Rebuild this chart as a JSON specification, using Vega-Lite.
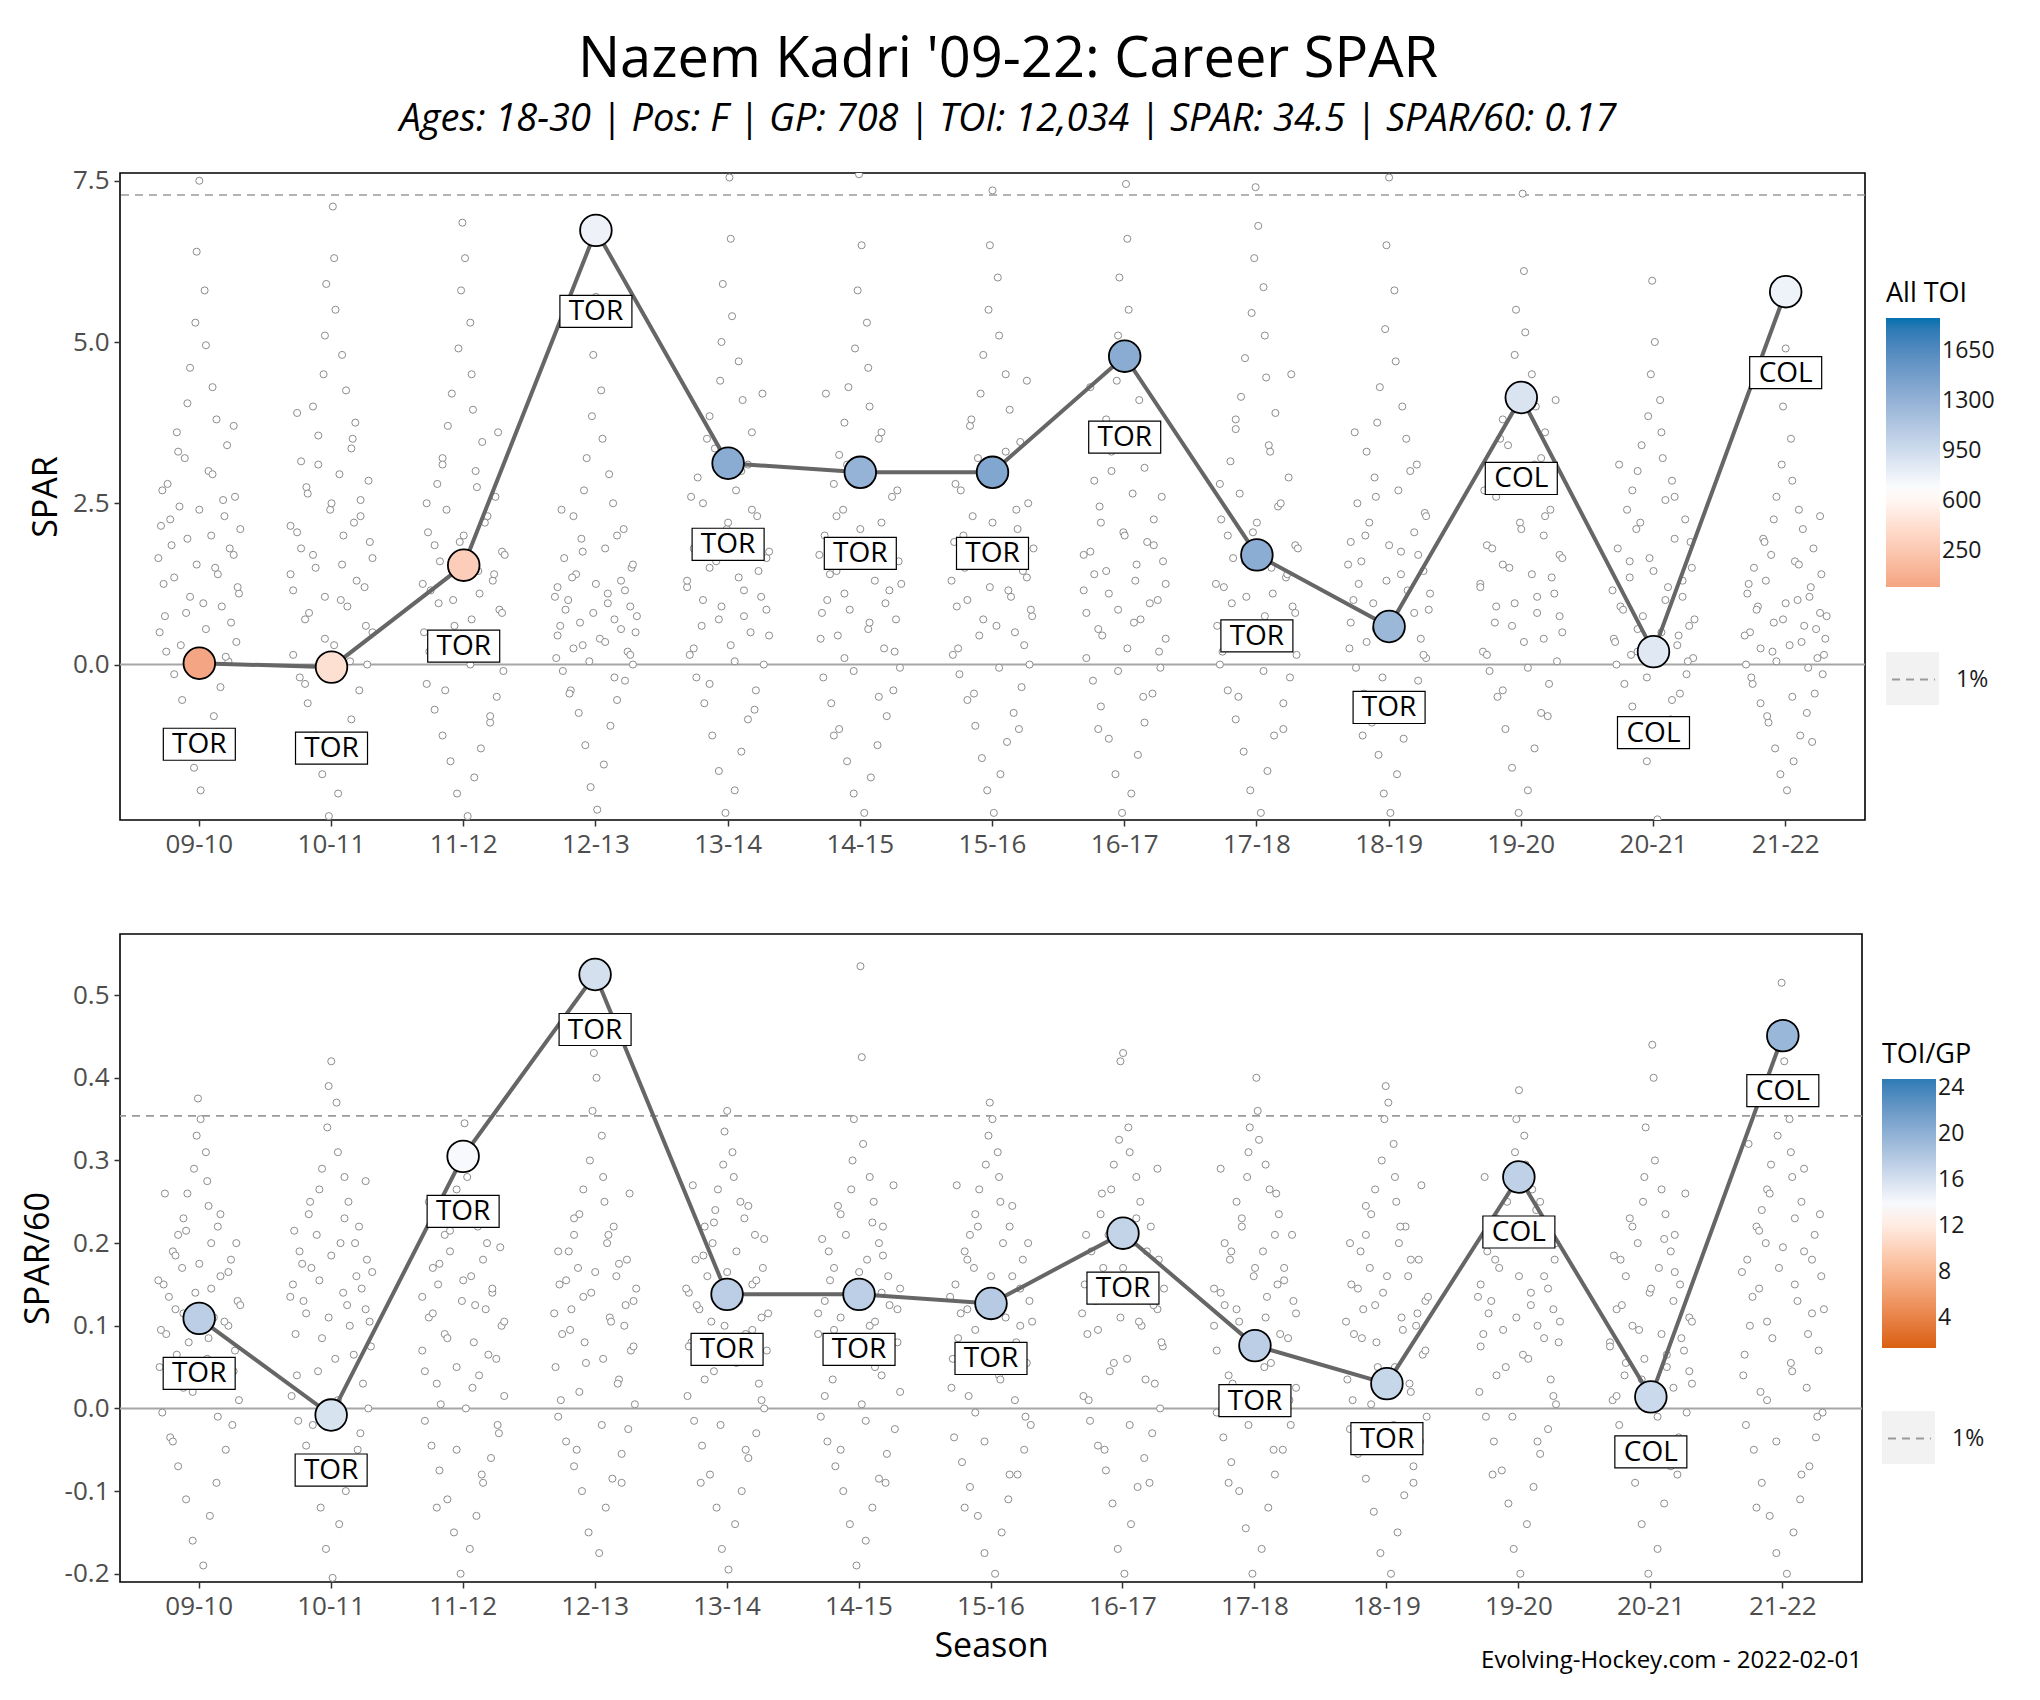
{
  "$schema": "https://vega.github.io/schema/vega-lite/v6.json",
  "background": "white",
  "padding": {"left": 20, "right": 10, "top": 31, "bottom": 8},
  "title": {
    "text": "Nazem Kadri '09-22: Career SPAR",
    "subtitle": "Ages: 18-30 | Pos: F | GP: 708 | TOI: 12,034 | SPAR: 34.5 | SPAR/60: 0.17",
    "font": "Open Sans",
    "subtitleFont": "Open Sans",
    "fontSize": 56,
    "fontWeight": "normal",
    "color": "black",
    "subtitleFontSize": 38,
    "subtitleFontStyle": "italic",
    "subtitleColor": "black",
    "subtitlePadding": 12,
    "anchor": "middle",
    "offset": 27
  },
  "config": {
    "font": "Open Sans",
    "locale": {"number": {"decimal": ".", "thousands": ",", "grouping": [3], "currency": ["$", ""], "minus": "-"}},
    "view": {"stroke": "black", "strokeWidth": 1.6},
    "axis": {
      "labelFont": "Open Sans", "labelFontSize": 26, "labelColor": "#4d4d4d",
      "titleFont": "Open Sans", "titleFontSize": 34, "titleFontWeight": "normal", "titleColor": "black",
      "tickColor": "#333333", "tickSize": 6, "tickWidth": 1.5, "domain": false, "grid": false, "labelPadding": 5
    },
    "axisX": {"labelAngle": 0, "titlePadding": 10},
    "axisY": {"titlePadding": 9},
    "legend": {
      "titleFont": "Open Sans", "titleFontSize": 27, "titleFontWeight": "normal", "titleColor": "black",
      "labelFont": "Open Sans", "labelFontSize": 23, "labelColor": "#1a1a1a",
      "gradientLength": 269, "gradientThickness": 54, "gradientStrokeWidth": 0, "labelOffset": 15, "titlePadding": 10
    }
  },
  "datasets": {
    "career": [
      {"season": "09-10", "team": "TOR", "spar": 0.02, "spar60": 0.109, "toi": 11, "toigp": 17.5},
      {"season": "10-11", "team": "TOR", "spar": -0.04, "spar60": -0.008, "toi": 440, "toigp": 15.8},
      {"season": "11-12", "team": "TOR", "spar": 1.54, "spar60": 0.305, "toi": 300, "toigp": 14},
      {"season": "12-13", "team": "TOR", "spar": 6.73, "spar60": 0.525, "toi": 770, "toigp": 16},
      {"season": "13-14", "team": "TOR", "spar": 3.12, "spar60": 0.138, "toi": 1357, "toigp": 17.5},
      {"season": "14-15", "team": "TOR", "spar": 2.98, "spar60": 0.138, "toi": 1295, "toigp": 17.4},
      {"season": "15-16", "team": "TOR", "spar": 2.98, "spar60": 0.127, "toi": 1408, "toigp": 17.8},
      {"season": "16-17", "team": "TOR", "spar": 4.78, "spar60": 0.212, "toi": 1353, "toigp": 17},
      {"season": "17-18", "team": "TOR", "spar": 1.70, "spar60": 0.076, "toi": 1342, "toigp": 17.5},
      {"season": "18-19", "team": "TOR", "spar": 0.59, "spar60": 0.030, "toi": 1250, "toigp": 16.8},
      {"season": "19-20", "team": "COL", "spar": 4.14, "spar60": 0.280, "toi": 887, "toigp": 17.3},
      {"season": "20-21", "team": "COL", "spar": 0.20, "spar60": 0.014, "toi": 857, "toigp": 16.6},
      {"season": "21-22", "team": "COL", "spar": 5.78, "spar60": 0.451, "toi": 769, "toigp": 19.5}
    ],
    "spar": [
      {"s":"09-10","v":-1.95,"o":0.01},{"s":"09-10","v":-1.6,"o":-0.04},{"s":"09-10","v":-1.3,"o":0.06},{"s":"09-10","v":-1.05,"o":-0.08},{"s":"09-10","v":-0.8,"o":0.11},{"s":"09-10","v":-0.55,"o":-0.13},{"s":"09-10","v":-0.35,"o":0.16},{"s":"09-10","v":-0.15,"o":-0.19},{"s":"09-10","v":0.05,"o":0.22},{"s":"09-10","v":0.2,"o":-0.25},
      {"s":"09-10","v":0.35,"o":0.28},{"s":"09-10","v":0.5,"o":-0.3},{"s":"09-10","v":0.65,"o":0.24},{"s":"09-10","v":0.8,"o":-0.1},{"s":"09-10","v":0.95,"o":0.03},{"s":"09-10","v":1.1,"o":0.3},{"s":"09-10","v":1.25,"o":-0.27},{"s":"09-10","v":1.4,"o":0.14},{"s":"09-10","v":1.55,"o":-0.02},{"s":"09-10","v":1.7,"o":0.26},
      {"s":"09-10","v":1.85,"o":-0.21},{"s":"09-10","v":2.0,"o":0.09},{"s":"09-10","v":2.15,"o":-0.29},{"s":"09-10","v":2.3,"o":0.19},{"s":"09-10","v":2.45,"o":-0.15},{"s":"09-10","v":2.6,"o":0.27},{"s":"09-10","v":2.8,"o":-0.24},{"s":"09-10","v":3.0,"o":0.07},{"s":"09-10","v":3.2,"o":-0.11},{"s":"09-10","v":3.4,"o":0.21},
      {"s":"09-10","v":3.6,"o":-0.17},{"s":"09-10","v":3.8,"o":0.13},{"s":"09-10","v":4.05,"o":-0.09},{"s":"09-10","v":4.3,"o":0.1},{"s":"09-10","v":4.6,"o":-0.07},{"s":"09-10","v":4.95,"o":0.05},{"s":"09-10","v":5.3,"o":-0.03},{"s":"09-10","v":5.8,"o":0.04},{"s":"09-10","v":6.4,"o":-0.02},{"s":"09-10","v":7.5,"o":0.0},
      {"s":"09-10","v":0.12,"o":0.2},{"s":"09-10","v":0.3,"o":-0.14},{"s":"09-10","v":0.55,"o":0.05},{"s":"09-10","v":0.75,"o":-0.26},{"s":"09-10","v":0.9,"o":0.17},{"s":"09-10","v":1.05,"o":-0.07},{"s":"09-10","v":1.2,"o":0.29},{"s":"09-10","v":1.35,"o":-0.19},{"s":"09-10","v":1.5,"o":0.12},{"s":"09-10","v":1.65,"o":-0.31},
      {"s":"09-10","v":1.8,"o":0.23},{"s":"09-10","v":1.95,"o":-0.09},{"s":"09-10","v":2.1,"o":0.31},{"s":"09-10","v":2.25,"o":-0.22},{"s":"09-10","v":2.4,"o":0.0},{"s":"09-10","v":2.55,"o":0.18},{"s":"09-10","v":2.7,"o":-0.28},{"s":"09-10","v":2.95,"o":0.1},{"s":"09-10","v":3.3,"o":-0.16},{"s":"09-10","v":3.7,"o":0.26},

      {"s":"10-11","v":-2.35,"o":-0.02},{"s":"10-11","v":-2.0,"o":0.05},{"s":"10-11","v":-1.7,"o":-0.07},{"s":"10-11","v":-1.4,"o":0.1},{"s":"10-11","v":-1.1,"o":-0.12},{"s":"10-11","v":-0.85,"o":0.15},{"s":"10-11","v":-0.6,"o":-0.18},{"s":"10-11","v":-0.4,"o":0.21},{"s":"10-11","v":-0.2,"o":-0.24},{"s":"10-11","v":0.0,"o":0.27},
      {"s":"10-11","v":0.15,"o":-0.29},{"s":"10-11","v":0.3,"o":0.02},{"s":"10-11","v":0.5,"o":0.31},{"s":"10-11","v":0.7,"o":-0.2},{"s":"10-11","v":0.9,"o":0.12},{"s":"10-11","v":1.05,"o":-0.05},{"s":"10-11","v":1.2,"o":0.25},{"s":"10-11","v":1.4,"o":-0.31},{"s":"10-11","v":1.55,"o":0.08},{"s":"10-11","v":1.7,"o":-0.14},
      {"s":"10-11","v":1.9,"o":0.29},{"s":"10-11","v":2.05,"o":-0.26},{"s":"10-11","v":2.2,"o":0.17},{"s":"10-11","v":2.4,"o":-0.01},{"s":"10-11","v":2.55,"o":0.22},{"s":"10-11","v":2.75,"o":-0.19},{"s":"10-11","v":2.95,"o":0.06},{"s":"10-11","v":3.15,"o":-0.23},{"s":"10-11","v":3.35,"o":0.15},{"s":"10-11","v":3.55,"o":-0.1},
      {"s":"10-11","v":3.75,"o":0.18},{"s":"10-11","v":4.0,"o":-0.14},{"s":"10-11","v":4.25,"o":0.11},{"s":"10-11","v":4.5,"o":-0.06},{"s":"10-11","v":4.8,"o":0.08},{"s":"10-11","v":5.1,"o":-0.05},{"s":"10-11","v":5.5,"o":0.03},{"s":"10-11","v":5.9,"o":-0.04},{"s":"10-11","v":6.3,"o":0.02},{"s":"10-11","v":7.1,"o":0.01},
      {"s":"10-11","v":-0.3,"o":-0.2},{"s":"10-11","v":0.05,"o":0.14},{"s":"10-11","v":0.4,"o":-0.05},{"s":"10-11","v":0.6,"o":0.26},{"s":"10-11","v":0.8,"o":-0.17},{"s":"10-11","v":1.0,"o":0.07},{"s":"10-11","v":1.15,"o":-0.29},{"s":"10-11","v":1.3,"o":0.19},{"s":"10-11","v":1.5,"o":-0.12},{"s":"10-11","v":1.65,"o":0.31},
      {"s":"10-11","v":1.8,"o":-0.23},{"s":"10-11","v":2.0,"o":0.09},{"s":"10-11","v":2.15,"o":-0.31},{"s":"10-11","v":2.3,"o":0.22},{"s":"10-11","v":2.5,"o":0.0},{"s":"10-11","v":2.65,"o":-0.18},{"s":"10-11","v":2.85,"o":0.28},{"s":"10-11","v":3.1,"o":-0.1},{"s":"10-11","v":3.5,"o":0.16},{"s":"10-11","v":3.9,"o":-0.26},

      {"s":"11-12","v":-2.35,"o":0.03},{"s":"11-12","v":-2.0,"o":-0.05},{"s":"11-12","v":-1.75,"o":0.08},{"s":"11-12","v":-1.5,"o":-0.1},{"s":"11-12","v":-1.3,"o":0.13},{"s":"11-12","v":-1.1,"o":-0.16},{"s":"11-12","v":-0.9,"o":0.2},{"s":"11-12","v":-0.7,"o":-0.22},{"s":"11-12","v":-0.5,"o":0.25},{"s":"11-12","v":-0.3,"o":-0.28},
      {"s":"11-12","v":-0.1,"o":0.3},{"s":"11-12","v":0.1,"o":-0.12},{"s":"11-12","v":0.3,"o":0.18},{"s":"11-12","v":0.5,"o":-0.3},{"s":"11-12","v":0.7,"o":0.06},{"s":"11-12","v":0.85,"o":0.27},{"s":"11-12","v":1.0,"o":-0.08},{"s":"11-12","v":1.15,"o":-0.25},{"s":"11-12","v":1.3,"o":0.22},{"s":"11-12","v":1.45,"o":0.11},
      {"s":"11-12","v":1.6,"o":-0.18},{"s":"11-12","v":1.75,"o":0.29},{"s":"11-12","v":1.9,"o":-0.03},{"s":"11-12","v":2.05,"o":-0.27},{"s":"11-12","v":2.2,"o":0.16},{"s":"11-12","v":2.4,"o":-0.13},{"s":"11-12","v":2.6,"o":0.24},{"s":"11-12","v":2.8,"o":-0.2},{"s":"11-12","v":3.0,"o":0.09},{"s":"11-12","v":3.2,"o":-0.16},
      {"s":"11-12","v":3.45,"o":0.14},{"s":"11-12","v":3.7,"o":-0.12},{"s":"11-12","v":3.95,"o":0.07},{"s":"11-12","v":4.2,"o":-0.09},{"s":"11-12","v":4.5,"o":0.06},{"s":"11-12","v":4.9,"o":-0.04},{"s":"11-12","v":5.3,"o":0.05},{"s":"11-12","v":5.8,"o":-0.02},{"s":"11-12","v":6.3,"o":0.01},{"s":"11-12","v":6.85,"o":-0.01},
      {"s":"11-12","v":-0.8,"o":0.2},{"s":"11-12","v":-0.4,"o":-0.14},{"s":"11-12","v":0.0,"o":0.05},{"s":"11-12","v":0.2,"o":-0.26},{"s":"11-12","v":0.4,"o":0.17},{"s":"11-12","v":0.6,"o":-0.07},{"s":"11-12","v":0.8,"o":0.29},{"s":"11-12","v":0.95,"o":-0.19},{"s":"11-12","v":1.1,"o":0.12},{"s":"11-12","v":1.25,"o":-0.31},
      {"s":"11-12","v":1.4,"o":0.23},{"s":"11-12","v":1.55,"o":-0.09},{"s":"11-12","v":1.7,"o":0.31},{"s":"11-12","v":1.85,"o":-0.22},{"s":"11-12","v":2.0,"o":0.0},{"s":"11-12","v":2.3,"o":0.18},{"s":"11-12","v":2.5,"o":-0.28},{"s":"11-12","v":2.75,"o":0.1},{"s":"11-12","v":3.1,"o":-0.16},{"s":"11-12","v":3.6,"o":0.26},

      {"s":"12-13","v":-2.25,"o":0.01},{"s":"12-13","v":-1.9,"o":-0.04},{"s":"12-13","v":-1.55,"o":0.06},{"s":"12-13","v":-1.25,"o":-0.08},{"s":"12-13","v":-0.95,"o":0.11},{"s":"12-13","v":-0.75,"o":-0.13},{"s":"12-13","v":-0.55,"o":0.16},{"s":"12-13","v":-0.4,"o":-0.19},{"s":"12-13","v":-0.25,"o":0.22},{"s":"12-13","v":-0.1,"o":-0.25},
      {"s":"12-13","v":0.0,"o":0.28},{"s":"12-13","v":0.1,"o":-0.3},{"s":"12-13","v":0.2,"o":0.24},{"s":"12-13","v":0.3,"o":-0.1},{"s":"12-13","v":0.4,"o":0.03},{"s":"12-13","v":0.5,"o":0.3},{"s":"12-13","v":0.6,"o":-0.27},{"s":"12-13","v":0.7,"o":0.14},{"s":"12-13","v":0.8,"o":-0.02},{"s":"12-13","v":0.9,"o":0.26},
      {"s":"12-13","v":1.0,"o":-0.21},{"s":"12-13","v":1.1,"o":0.09},{"s":"12-13","v":1.2,"o":-0.29},{"s":"12-13","v":1.3,"o":0.19},{"s":"12-13","v":1.4,"o":-0.15},{"s":"12-13","v":1.5,"o":0.27},{"s":"12-13","v":1.65,"o":-0.24},{"s":"12-13","v":1.8,"o":0.07},{"s":"12-13","v":1.95,"o":-0.11},{"s":"12-13","v":2.1,"o":0.21},
      {"s":"12-13","v":2.3,"o":-0.17},{"s":"12-13","v":2.5,"o":0.13},{"s":"12-13","v":2.7,"o":-0.09},{"s":"12-13","v":2.95,"o":0.1},{"s":"12-13","v":3.2,"o":-0.07},{"s":"12-13","v":3.5,"o":0.05},{"s":"12-13","v":3.85,"o":-0.03},{"s":"12-13","v":4.25,"o":0.04},{"s":"12-13","v":4.8,"o":-0.02},{"s":"12-13","v":5.7,"o":0.0},
      {"s":"12-13","v":-0.45,"o":-0.2},{"s":"12-13","v":-0.2,"o":0.14},{"s":"12-13","v":0.05,"o":-0.05},{"s":"12-13","v":0.15,"o":0.26},{"s":"12-13","v":0.25,"o":-0.17},{"s":"12-13","v":0.35,"o":0.07},{"s":"12-13","v":0.45,"o":-0.29},{"s":"12-13","v":0.55,"o":0.19},{"s":"12-13","v":0.65,"o":-0.12},{"s":"12-13","v":0.75,"o":0.31},
      {"s":"12-13","v":0.85,"o":-0.23},{"s":"12-13","v":0.95,"o":0.09},{"s":"12-13","v":1.05,"o":-0.31},{"s":"12-13","v":1.15,"o":0.22},{"s":"12-13","v":1.25,"o":0.0},{"s":"12-13","v":1.35,"o":-0.18},{"s":"12-13","v":1.55,"o":0.28},{"s":"12-13","v":1.75,"o":-0.1},{"s":"12-13","v":2.0,"o":0.16},{"s":"12-13","v":2.4,"o":-0.26},

      {"s":"13-14","v":-2.3,"o":-0.02},{"s":"13-14","v":-1.95,"o":0.05},{"s":"13-14","v":-1.65,"o":-0.07},{"s":"13-14","v":-1.35,"o":0.1},{"s":"13-14","v":-1.1,"o":-0.12},{"s":"13-14","v":-0.85,"o":0.15},{"s":"13-14","v":-0.6,"o":-0.18},{"s":"13-14","v":-0.4,"o":0.21},{"s":"13-14","v":-0.2,"o":-0.24},{"s":"13-14","v":0.0,"o":0.27},
      {"s":"13-14","v":0.15,"o":-0.29},{"s":"13-14","v":0.3,"o":0.02},{"s":"13-14","v":0.45,"o":0.31},{"s":"13-14","v":0.6,"o":-0.2},{"s":"13-14","v":0.75,"o":0.12},{"s":"13-14","v":0.9,"o":-0.05},{"s":"13-14","v":1.05,"o":0.25},{"s":"13-14","v":1.2,"o":-0.31},{"s":"13-14","v":1.35,"o":0.08},{"s":"13-14","v":1.5,"o":-0.14},
      {"s":"13-14","v":1.65,"o":0.29},{"s":"13-14","v":1.8,"o":-0.26},{"s":"13-14","v":1.95,"o":0.17},{"s":"13-14","v":2.1,"o":-0.01},{"s":"13-14","v":2.3,"o":0.22},{"s":"13-14","v":2.5,"o":-0.19},{"s":"13-14","v":2.7,"o":0.06},{"s":"13-14","v":2.9,"o":-0.23},{"s":"13-14","v":3.1,"o":0.15},{"s":"13-14","v":3.35,"o":-0.1},
      {"s":"13-14","v":3.6,"o":0.18},{"s":"13-14","v":3.85,"o":-0.14},{"s":"13-14","v":4.1,"o":0.11},{"s":"13-14","v":4.4,"o":-0.06},{"s":"13-14","v":4.7,"o":0.08},{"s":"13-14","v":5.0,"o":-0.05},{"s":"13-14","v":5.4,"o":0.03},{"s":"13-14","v":5.9,"o":-0.04},{"s":"13-14","v":6.6,"o":0.02},{"s":"13-14","v":7.55,"o":0.01},
      {"s":"13-14","v":-0.7,"o":0.2},{"s":"13-14","v":-0.3,"o":-0.14},{"s":"13-14","v":0.05,"o":0.05},{"s":"13-14","v":0.25,"o":-0.26},{"s":"13-14","v":0.5,"o":0.17},{"s":"13-14","v":0.7,"o":-0.07},{"s":"13-14","v":0.85,"o":0.29},{"s":"13-14","v":1.0,"o":-0.19},{"s":"13-14","v":1.15,"o":0.12},{"s":"13-14","v":1.3,"o":-0.31},
      {"s":"13-14","v":1.45,"o":0.23},{"s":"13-14","v":1.6,"o":-0.09},{"s":"13-14","v":1.75,"o":0.31},{"s":"13-14","v":1.9,"o":-0.22},{"s":"13-14","v":2.2,"o":0.0},{"s":"13-14","v":2.4,"o":0.18},{"s":"13-14","v":2.6,"o":-0.28},{"s":"13-14","v":3.0,"o":0.1},{"s":"13-14","v":3.5,"o":-0.16},{"s":"13-14","v":4.2,"o":0.26},

      {"s":"14-15","v":-2.3,"o":0.03},{"s":"14-15","v":-2.0,"o":-0.05},{"s":"14-15","v":-1.75,"o":0.08},{"s":"14-15","v":-1.5,"o":-0.1},{"s":"14-15","v":-1.25,"o":0.13},{"s":"14-15","v":-1.0,"o":-0.16},{"s":"14-15","v":-0.8,"o":0.2},{"s":"14-15","v":-0.6,"o":-0.22},{"s":"14-15","v":-0.4,"o":0.25},{"s":"14-15","v":-0.2,"o":-0.28},
      {"s":"14-15","v":-0.05,"o":0.3},{"s":"14-15","v":0.1,"o":-0.12},{"s":"14-15","v":0.25,"o":0.18},{"s":"14-15","v":0.4,"o":-0.3},{"s":"14-15","v":0.55,"o":0.06},{"s":"14-15","v":0.7,"o":0.27},{"s":"14-15","v":0.85,"o":-0.08},{"s":"14-15","v":1.0,"o":-0.25},{"s":"14-15","v":1.15,"o":0.22},{"s":"14-15","v":1.3,"o":0.11},
      {"s":"14-15","v":1.45,"o":-0.18},{"s":"14-15","v":1.6,"o":0.29},{"s":"14-15","v":1.8,"o":-0.03},{"s":"14-15","v":2.0,"o":-0.27},{"s":"14-15","v":2.2,"o":0.16},{"s":"14-15","v":2.4,"o":-0.13},{"s":"14-15","v":2.6,"o":0.24},{"s":"14-15","v":2.8,"o":-0.2},{"s":"14-15","v":3.0,"o":0.09},{"s":"14-15","v":3.25,"o":-0.16},
      {"s":"14-15","v":3.5,"o":0.14},{"s":"14-15","v":3.75,"o":-0.12},{"s":"14-15","v":4.0,"o":0.07},{"s":"14-15","v":4.3,"o":-0.09},{"s":"14-15","v":4.6,"o":0.06},{"s":"14-15","v":4.9,"o":-0.04},{"s":"14-15","v":5.3,"o":0.05},{"s":"14-15","v":5.8,"o":-0.02},{"s":"14-15","v":6.5,"o":0.01},{"s":"14-15","v":7.6,"o":-0.01},
      {"s":"14-15","v":-1.1,"o":-0.2},{"s":"14-15","v":-0.5,"o":0.14},{"s":"14-15","v":-0.1,"o":-0.05},{"s":"14-15","v":0.2,"o":0.26},{"s":"14-15","v":0.45,"o":-0.17},{"s":"14-15","v":0.65,"o":0.07},{"s":"14-15","v":0.8,"o":-0.29},{"s":"14-15","v":0.95,"o":0.19},{"s":"14-15","v":1.1,"o":-0.12},{"s":"14-15","v":1.25,"o":0.31},
      {"s":"14-15","v":1.4,"o":-0.23},{"s":"14-15","v":1.55,"o":0.09},{"s":"14-15","v":1.7,"o":-0.31},{"s":"14-15","v":1.9,"o":0.22},{"s":"14-15","v":2.1,"o":0.0},{"s":"14-15","v":2.3,"o":-0.18},{"s":"14-15","v":2.7,"o":0.28},{"s":"14-15","v":3.1,"o":-0.1},{"s":"14-15","v":3.6,"o":0.16},{"s":"14-15","v":4.2,"o":-0.26},

      {"s":"15-16","v":-2.3,"o":0.01},{"s":"15-16","v":-1.95,"o":-0.04},{"s":"15-16","v":-1.7,"o":0.06},{"s":"15-16","v":-1.45,"o":-0.08},{"s":"15-16","v":-1.2,"o":0.11},{"s":"15-16","v":-0.95,"o":-0.13},{"s":"15-16","v":-0.75,"o":0.16},{"s":"15-16","v":-0.55,"o":-0.19},{"s":"15-16","v":-0.35,"o":0.22},{"s":"15-16","v":-0.15,"o":-0.25},
      {"s":"15-16","v":0.0,"o":0.28},{"s":"15-16","v":0.15,"o":-0.3},{"s":"15-16","v":0.3,"o":0.24},{"s":"15-16","v":0.45,"o":-0.1},{"s":"15-16","v":0.6,"o":0.03},{"s":"15-16","v":0.75,"o":0.3},{"s":"15-16","v":0.9,"o":-0.27},{"s":"15-16","v":1.05,"o":0.14},{"s":"15-16","v":1.2,"o":-0.02},{"s":"15-16","v":1.35,"o":0.26},
      {"s":"15-16","v":1.5,"o":-0.21},{"s":"15-16","v":1.7,"o":0.09},{"s":"15-16","v":1.9,"o":-0.29},{"s":"15-16","v":2.1,"o":0.19},{"s":"15-16","v":2.3,"o":-0.15},{"s":"15-16","v":2.5,"o":0.27},{"s":"15-16","v":2.7,"o":-0.24},{"s":"15-16","v":2.95,"o":0.07},{"s":"15-16","v":3.2,"o":-0.11},{"s":"15-16","v":3.45,"o":0.21},
      {"s":"15-16","v":3.7,"o":-0.17},{"s":"15-16","v":3.95,"o":0.13},{"s":"15-16","v":4.2,"o":-0.09},{"s":"15-16","v":4.5,"o":0.1},{"s":"15-16","v":4.8,"o":-0.07},{"s":"15-16","v":5.1,"o":0.05},{"s":"15-16","v":5.5,"o":-0.03},{"s":"15-16","v":6.0,"o":0.04},{"s":"15-16","v":6.5,"o":-0.02},{"s":"15-16","v":7.35,"o":0.0},
      {"s":"15-16","v":-1.0,"o":0.2},{"s":"15-16","v":-0.45,"o":-0.14},{"s":"15-16","v":-0.05,"o":0.05},{"s":"15-16","v":0.25,"o":-0.26},{"s":"15-16","v":0.5,"o":0.17},{"s":"15-16","v":0.7,"o":-0.07},{"s":"15-16","v":0.85,"o":0.29},{"s":"15-16","v":1.0,"o":-0.19},{"s":"15-16","v":1.15,"o":0.12},{"s":"15-16","v":1.3,"o":-0.31},
      {"s":"15-16","v":1.45,"o":0.23},{"s":"15-16","v":1.6,"o":-0.09},{"s":"15-16","v":1.8,"o":0.31},{"s":"15-16","v":2.0,"o":-0.22},{"s":"15-16","v":2.2,"o":0.0},{"s":"15-16","v":2.4,"o":0.18},{"s":"15-16","v":2.8,"o":-0.28},{"s":"15-16","v":3.3,"o":0.1},{"s":"15-16","v":3.8,"o":-0.16},{"s":"15-16","v":4.4,"o":0.26},

      {"s":"16-17","v":-2.3,"o":-0.02},{"s":"16-17","v":-2.0,"o":0.05},{"s":"16-17","v":-1.7,"o":-0.07},{"s":"16-17","v":-1.4,"o":0.1},{"s":"16-17","v":-1.15,"o":-0.12},{"s":"16-17","v":-0.9,"o":0.15},{"s":"16-17","v":-0.65,"o":-0.18},{"s":"16-17","v":-0.45,"o":0.21},{"s":"16-17","v":-0.25,"o":-0.24},{"s":"16-17","v":-0.05,"o":0.27},
      {"s":"16-17","v":0.1,"o":-0.29},{"s":"16-17","v":0.25,"o":0.02},{"s":"16-17","v":0.4,"o":0.31},{"s":"16-17","v":0.55,"o":-0.2},{"s":"16-17","v":0.7,"o":0.12},{"s":"16-17","v":0.85,"o":-0.05},{"s":"16-17","v":1.0,"o":0.25},{"s":"16-17","v":1.15,"o":-0.31},{"s":"16-17","v":1.3,"o":0.08},{"s":"16-17","v":1.45,"o":-0.14},
      {"s":"16-17","v":1.6,"o":0.29},{"s":"16-17","v":1.75,"o":-0.26},{"s":"16-17","v":1.9,"o":0.17},{"s":"16-17","v":2.05,"o":-0.01},{"s":"16-17","v":2.25,"o":0.22},{"s":"16-17","v":2.45,"o":-0.19},{"s":"16-17","v":2.65,"o":0.06},{"s":"16-17","v":2.85,"o":-0.23},{"s":"16-17","v":3.05,"o":0.15},{"s":"16-17","v":3.3,"o":-0.1},
      {"s":"16-17","v":3.55,"o":0.18},{"s":"16-17","v":3.8,"o":-0.14},{"s":"16-17","v":4.1,"o":0.11},{"s":"16-17","v":4.4,"o":-0.06},{"s":"16-17","v":4.75,"o":0.08},{"s":"16-17","v":5.1,"o":-0.05},{"s":"16-17","v":5.5,"o":0.03},{"s":"16-17","v":6.0,"o":-0.04},{"s":"16-17","v":6.6,"o":0.02},{"s":"16-17","v":7.45,"o":0.01},
      {"s":"16-17","v":-1.0,"o":-0.2},{"s":"16-17","v":-0.5,"o":0.14},{"s":"16-17","v":-0.1,"o":-0.05},{"s":"16-17","v":0.2,"o":0.26},{"s":"16-17","v":0.45,"o":-0.17},{"s":"16-17","v":0.65,"o":0.07},{"s":"16-17","v":0.8,"o":-0.29},{"s":"16-17","v":0.95,"o":0.19},{"s":"16-17","v":1.1,"o":-0.12},{"s":"16-17","v":1.25,"o":0.31},
      {"s":"16-17","v":1.4,"o":-0.23},{"s":"16-17","v":1.55,"o":0.09},{"s":"16-17","v":1.7,"o":-0.31},{"s":"16-17","v":1.85,"o":0.22},{"s":"16-17","v":2.0,"o":0.0},{"s":"16-17","v":2.2,"o":-0.18},{"s":"16-17","v":2.6,"o":0.28},{"s":"16-17","v":3.0,"o":-0.1},{"s":"16-17","v":3.5,"o":0.16},{"s":"16-17","v":4.3,"o":-0.26},

      {"s":"17-18","v":-2.3,"o":0.03},{"s":"17-18","v":-1.95,"o":-0.05},{"s":"17-18","v":-1.65,"o":0.08},{"s":"17-18","v":-1.35,"o":-0.1},{"s":"17-18","v":-1.1,"o":0.13},{"s":"17-18","v":-0.85,"o":-0.16},{"s":"17-18","v":-0.6,"o":0.2},{"s":"17-18","v":-0.4,"o":-0.22},{"s":"17-18","v":-0.2,"o":0.25},{"s":"17-18","v":0.0,"o":-0.28},
      {"s":"17-18","v":0.15,"o":0.3},{"s":"17-18","v":0.3,"o":-0.12},{"s":"17-18","v":0.45,"o":0.18},{"s":"17-18","v":0.6,"o":-0.3},{"s":"17-18","v":0.75,"o":0.06},{"s":"17-18","v":0.9,"o":0.27},{"s":"17-18","v":1.05,"o":-0.08},{"s":"17-18","v":1.2,"o":-0.25},{"s":"17-18","v":1.35,"o":0.22},{"s":"17-18","v":1.5,"o":0.11},
      {"s":"17-18","v":1.65,"o":-0.18},{"s":"17-18","v":1.85,"o":0.29},{"s":"17-18","v":2.05,"o":-0.03},{"s":"17-18","v":2.25,"o":-0.27},{"s":"17-18","v":2.45,"o":0.16},{"s":"17-18","v":2.65,"o":-0.13},{"s":"17-18","v":2.9,"o":0.24},{"s":"17-18","v":3.15,"o":-0.2},{"s":"17-18","v":3.4,"o":0.09},{"s":"17-18","v":3.65,"o":-0.16},
      {"s":"17-18","v":3.9,"o":0.14},{"s":"17-18","v":4.15,"o":-0.12},{"s":"17-18","v":4.45,"o":0.07},{"s":"17-18","v":4.75,"o":-0.09},{"s":"17-18","v":5.1,"o":0.06},{"s":"17-18","v":5.45,"o":-0.04},{"s":"17-18","v":5.85,"o":0.05},{"s":"17-18","v":6.3,"o":-0.02},{"s":"17-18","v":6.8,"o":0.01},{"s":"17-18","v":7.4,"o":-0.01},
      {"s":"17-18","v":-1.0,"o":0.2},{"s":"17-18","v":-0.5,"o":-0.14},{"s":"17-18","v":-0.1,"o":0.05},{"s":"17-18","v":0.2,"o":-0.26},{"s":"17-18","v":0.4,"o":0.17},{"s":"17-18","v":0.6,"o":-0.07},{"s":"17-18","v":0.8,"o":0.29},{"s":"17-18","v":0.95,"o":-0.19},{"s":"17-18","v":1.1,"o":0.12},{"s":"17-18","v":1.25,"o":-0.31},
      {"s":"17-18","v":1.4,"o":0.23},{"s":"17-18","v":1.6,"o":-0.09},{"s":"17-18","v":1.8,"o":0.31},{"s":"17-18","v":2.0,"o":-0.22},{"s":"17-18","v":2.2,"o":0.0},{"s":"17-18","v":2.5,"o":0.18},{"s":"17-18","v":2.8,"o":-0.28},{"s":"17-18","v":3.3,"o":0.1},{"s":"17-18","v":3.8,"o":-0.16},{"s":"17-18","v":4.5,"o":0.26},

      {"s":"18-19","v":-2.3,"o":0.01},{"s":"18-19","v":-2.0,"o":-0.04},{"s":"18-19","v":-1.7,"o":0.06},{"s":"18-19","v":-1.4,"o":-0.08},{"s":"18-19","v":-1.15,"o":0.11},{"s":"18-19","v":-0.9,"o":-0.13},{"s":"18-19","v":-0.65,"o":0.16},{"s":"18-19","v":-0.45,"o":-0.19},{"s":"18-19","v":-0.25,"o":0.22},{"s":"18-19","v":-0.05,"o":-0.25},
      {"s":"18-19","v":0.1,"o":0.28},{"s":"18-19","v":0.25,"o":-0.3},{"s":"18-19","v":0.4,"o":0.24},{"s":"18-19","v":0.55,"o":-0.1},{"s":"18-19","v":0.7,"o":0.03},{"s":"18-19","v":0.85,"o":0.3},{"s":"18-19","v":1.0,"o":-0.27},{"s":"18-19","v":1.15,"o":0.14},{"s":"18-19","v":1.3,"o":-0.02},{"s":"18-19","v":1.45,"o":0.26},
      {"s":"18-19","v":1.6,"o":-0.21},{"s":"18-19","v":1.75,"o":0.09},{"s":"18-19","v":1.9,"o":-0.29},{"s":"18-19","v":2.05,"o":0.19},{"s":"18-19","v":2.2,"o":-0.15},{"s":"18-19","v":2.35,"o":0.27},{"s":"18-19","v":2.5,"o":-0.24},{"s":"18-19","v":2.7,"o":0.07},{"s":"18-19","v":2.9,"o":-0.11},{"s":"18-19","v":3.1,"o":0.21},
      {"s":"18-19","v":3.3,"o":-0.17},{"s":"18-19","v":3.5,"o":0.13},{"s":"18-19","v":3.75,"o":-0.09},{"s":"18-19","v":4.0,"o":0.1},{"s":"18-19","v":4.3,"o":-0.07},{"s":"18-19","v":4.7,"o":0.05},{"s":"18-19","v":5.2,"o":-0.03},{"s":"18-19","v":5.8,"o":0.04},{"s":"18-19","v":6.5,"o":-0.02},{"s":"18-19","v":7.55,"o":0.0},
      {"s":"18-19","v":-1.1,"o":-0.2},{"s":"18-19","v":-0.6,"o":0.14},{"s":"18-19","v":-0.2,"o":-0.05},{"s":"18-19","v":0.15,"o":0.26},{"s":"18-19","v":0.35,"o":-0.17},{"s":"18-19","v":0.5,"o":0.07},{"s":"18-19","v":0.65,"o":-0.29},{"s":"18-19","v":0.8,"o":0.19},{"s":"18-19","v":0.95,"o":-0.12},{"s":"18-19","v":1.1,"o":0.31},
      {"s":"18-19","v":1.25,"o":-0.23},{"s":"18-19","v":1.4,"o":0.09},{"s":"18-19","v":1.55,"o":-0.31},{"s":"18-19","v":1.7,"o":0.22},{"s":"18-19","v":1.85,"o":0.0},{"s":"18-19","v":2.0,"o":-0.18},{"s":"18-19","v":2.3,"o":0.28},{"s":"18-19","v":2.6,"o":-0.1},{"s":"18-19","v":3.0,"o":0.16},{"s":"18-19","v":3.6,"o":-0.26},

      {"s":"19-20","v":-2.3,"o":-0.02},{"s":"19-20","v":-1.95,"o":0.05},{"s":"19-20","v":-1.6,"o":-0.07},{"s":"19-20","v":-1.3,"o":0.1},{"s":"19-20","v":-1.0,"o":-0.12},{"s":"19-20","v":-0.75,"o":0.15},{"s":"19-20","v":-0.5,"o":-0.18},{"s":"19-20","v":-0.3,"o":0.21},{"s":"19-20","v":-0.1,"o":-0.24},{"s":"19-20","v":0.05,"o":0.27},
      {"s":"19-20","v":0.2,"o":-0.29},{"s":"19-20","v":0.35,"o":0.02},{"s":"19-20","v":0.5,"o":0.31},{"s":"19-20","v":0.65,"o":-0.2},{"s":"19-20","v":0.8,"o":0.12},{"s":"19-20","v":0.95,"o":-0.05},{"s":"19-20","v":1.1,"o":0.25},{"s":"19-20","v":1.25,"o":-0.31},{"s":"19-20","v":1.4,"o":0.08},{"s":"19-20","v":1.55,"o":-0.14},
      {"s":"19-20","v":1.7,"o":0.29},{"s":"19-20","v":1.85,"o":-0.26},{"s":"19-20","v":2.0,"o":0.17},{"s":"19-20","v":2.2,"o":-0.01},{"s":"19-20","v":2.4,"o":0.22},{"s":"19-20","v":2.6,"o":-0.19},{"s":"19-20","v":2.8,"o":0.06},{"s":"19-20","v":3.0,"o":-0.23},{"s":"19-20","v":3.2,"o":0.15},{"s":"19-20","v":3.4,"o":-0.1},
      {"s":"19-20","v":3.6,"o":0.18},{"s":"19-20","v":3.8,"o":-0.14},{"s":"19-20","v":4.0,"o":0.11},{"s":"19-20","v":4.25,"o":-0.06},{"s":"19-20","v":4.5,"o":0.08},{"s":"19-20","v":4.8,"o":-0.05},{"s":"19-20","v":5.15,"o":0.03},{"s":"19-20","v":5.5,"o":-0.04},{"s":"19-20","v":6.1,"o":0.02},{"s":"19-20","v":7.3,"o":0.01},
      {"s":"19-20","v":-0.8,"o":0.2},{"s":"19-20","v":-0.4,"o":-0.14},{"s":"19-20","v":-0.05,"o":0.05},{"s":"19-20","v":0.15,"o":-0.26},{"s":"19-20","v":0.4,"o":0.17},{"s":"19-20","v":0.6,"o":-0.07},{"s":"19-20","v":0.75,"o":0.29},{"s":"19-20","v":0.9,"o":-0.19},{"s":"19-20","v":1.05,"o":0.12},{"s":"19-20","v":1.2,"o":-0.31},
      {"s":"19-20","v":1.35,"o":0.23},{"s":"19-20","v":1.5,"o":-0.09},{"s":"19-20","v":1.65,"o":0.31},{"s":"19-20","v":1.8,"o":-0.22},{"s":"19-20","v":2.1,"o":0.0},{"s":"19-20","v":2.3,"o":0.18},{"s":"19-20","v":2.7,"o":-0.28},{"s":"19-20","v":3.1,"o":0.1},{"s":"19-20","v":3.5,"o":-0.16},{"s":"19-20","v":4.1,"o":0.26},

      {"s":"20-21","v":-2.4,"o":0.03},{"s":"20-21","v":-1.5,"o":-0.05},{"s":"20-21","v":-1.25,"o":0.08},{"s":"20-21","v":-1.05,"o":-0.1},{"s":"20-21","v":-0.85,"o":0.13},{"s":"20-21","v":-0.65,"o":-0.16},{"s":"20-21","v":-0.45,"o":0.2},{"s":"20-21","v":-0.3,"o":-0.22},{"s":"20-21","v":-0.15,"o":0.25},{"s":"20-21","v":0.0,"o":-0.28},
      {"s":"20-21","v":0.1,"o":0.3},{"s":"20-21","v":0.2,"o":-0.12},{"s":"20-21","v":0.3,"o":0.18},{"s":"20-21","v":0.4,"o":-0.3},{"s":"20-21","v":0.5,"o":0.06},{"s":"20-21","v":0.6,"o":0.27},{"s":"20-21","v":0.75,"o":-0.08},{"s":"20-21","v":0.9,"o":-0.25},{"s":"20-21","v":1.05,"o":0.22},{"s":"20-21","v":1.2,"o":0.11},
      {"s":"20-21","v":1.35,"o":-0.18},{"s":"20-21","v":1.5,"o":0.29},{"s":"20-21","v":1.65,"o":-0.03},{"s":"20-21","v":1.8,"o":-0.27},{"s":"20-21","v":1.95,"o":0.16},{"s":"20-21","v":2.1,"o":-0.13},{"s":"20-21","v":2.25,"o":0.24},{"s":"20-21","v":2.4,"o":-0.2},{"s":"20-21","v":2.55,"o":0.09},{"s":"20-21","v":2.7,"o":-0.16},
      {"s":"20-21","v":2.85,"o":0.14},{"s":"20-21","v":3.0,"o":-0.12},{"s":"20-21","v":3.2,"o":0.07},{"s":"20-21","v":3.4,"o":-0.09},{"s":"20-21","v":3.6,"o":0.06},{"s":"20-21","v":3.85,"o":-0.04},{"s":"20-21","v":4.1,"o":0.05},{"s":"20-21","v":4.5,"o":-0.02},{"s":"20-21","v":5.0,"o":0.01},{"s":"20-21","v":5.95,"o":-0.01},
      {"s":"20-21","v":-1.0,"o":-0.2},{"s":"20-21","v":-0.55,"o":0.14},{"s":"20-21","v":-0.2,"o":-0.05},{"s":"20-21","v":0.05,"o":0.26},{"s":"20-21","v":0.15,"o":-0.17},{"s":"20-21","v":0.25,"o":0.07},{"s":"20-21","v":0.35,"o":-0.29},{"s":"20-21","v":0.45,"o":0.19},{"s":"20-21","v":0.55,"o":-0.12},{"s":"20-21","v":0.7,"o":0.31},
      {"s":"20-21","v":0.85,"o":-0.23},{"s":"20-21","v":1.0,"o":0.09},{"s":"20-21","v":1.15,"o":-0.31},{"s":"20-21","v":1.3,"o":0.22},{"s":"20-21","v":1.45,"o":0.0},{"s":"20-21","v":1.6,"o":-0.18},{"s":"20-21","v":1.9,"o":0.28},{"s":"20-21","v":2.2,"o":-0.1},{"s":"20-21","v":2.6,"o":0.16},{"s":"20-21","v":3.1,"o":-0.26},

      {"s":"21-22","v":-1.95,"o":0.01},{"s":"21-22","v":-1.7,"o":-0.04},{"s":"21-22","v":-1.5,"o":0.06},{"s":"21-22","v":-1.3,"o":-0.08},{"s":"21-22","v":-1.1,"o":0.11},{"s":"21-22","v":-0.9,"o":-0.13},{"s":"21-22","v":-0.75,"o":0.16},{"s":"21-22","v":-0.6,"o":-0.19},{"s":"21-22","v":-0.45,"o":0.22},{"s":"21-22","v":-0.3,"o":-0.25},
      {"s":"21-22","v":-0.15,"o":0.28},{"s":"21-22","v":0.0,"o":-0.3},{"s":"21-22","v":0.1,"o":0.24},{"s":"21-22","v":0.2,"o":-0.1},{"s":"21-22","v":0.3,"o":0.03},{"s":"21-22","v":0.4,"o":0.3},{"s":"21-22","v":0.5,"o":-0.27},{"s":"21-22","v":0.6,"o":0.14},{"s":"21-22","v":0.7,"o":-0.02},{"s":"21-22","v":0.8,"o":0.26},
      {"s":"21-22","v":0.9,"o":-0.21},{"s":"21-22","v":1.0,"o":0.09},{"s":"21-22","v":1.1,"o":-0.29},{"s":"21-22","v":1.2,"o":0.19},{"s":"21-22","v":1.3,"o":-0.15},{"s":"21-22","v":1.4,"o":0.27},{"s":"21-22","v":1.5,"o":-0.24},{"s":"21-22","v":1.6,"o":0.07},{"s":"21-22","v":1.7,"o":-0.11},{"s":"21-22","v":1.8,"o":0.21},
      {"s":"21-22","v":1.95,"o":-0.17},{"s":"21-22","v":2.1,"o":0.13},{"s":"21-22","v":2.25,"o":-0.09},{"s":"21-22","v":2.4,"o":0.1},{"s":"21-22","v":2.6,"o":-0.07},{"s":"21-22","v":2.85,"o":0.05},{"s":"21-22","v":3.1,"o":-0.03},{"s":"21-22","v":3.5,"o":0.04},{"s":"21-22","v":4.0,"o":-0.02},{"s":"21-22","v":4.9,"o":0.0},
      {"s":"21-22","v":-1.2,"o":0.2},{"s":"21-22","v":-0.8,"o":-0.14},{"s":"21-22","v":-0.5,"o":0.05},{"s":"21-22","v":-0.2,"o":-0.26},{"s":"21-22","v":-0.05,"o":0.17},{"s":"21-22","v":0.05,"o":-0.07},{"s":"21-22","v":0.15,"o":0.29},{"s":"21-22","v":0.25,"o":-0.19},{"s":"21-22","v":0.35,"o":0.12},{"s":"21-22","v":0.45,"o":-0.31},
      {"s":"21-22","v":0.55,"o":0.23},{"s":"21-22","v":0.65,"o":-0.09},{"s":"21-22","v":0.75,"o":0.31},{"s":"21-22","v":0.85,"o":-0.22},{"s":"21-22","v":0.95,"o":0.0},{"s":"21-22","v":1.05,"o":0.18},{"s":"21-22","v":1.25,"o":-0.28},{"s":"21-22","v":1.55,"o":0.1},{"s":"21-22","v":1.9,"o":-0.16},{"s":"21-22","v":2.3,"o":0.26}
    ],
    "spar60": [
      {"s":"09-10","v":-0.19,"o":0.03},{"s":"09-10","v":-0.16,"o":-0.05},{"s":"09-10","v":-0.13,"o":0.08},{"s":"09-10","v":-0.11,"o":-0.1},{"s":"09-10","v":-0.09,"o":0.13},{"s":"09-10","v":-0.07,"o":-0.16},{"s":"09-10","v":-0.05,"o":0.2},{"s":"09-10","v":-0.035,"o":-0.22},{"s":"09-10","v":-0.02,"o":0.25},{"s":"09-10","v":-0.005,"o":-0.28},
      {"s":"09-10","v":0.01,"o":0.3},{"s":"09-10","v":0.025,"o":-0.12},{"s":"09-10","v":0.04,"o":0.18},{"s":"09-10","v":0.05,"o":-0.3},{"s":"09-10","v":0.06,"o":0.06},{"s":"09-10","v":0.07,"o":0.27},{"s":"09-10","v":0.08,"o":-0.08},{"s":"09-10","v":0.09,"o":-0.25},{"s":"09-10","v":0.1,"o":0.22},{"s":"09-10","v":0.11,"o":0.11},
      {"s":"09-10","v":0.12,"o":-0.18},{"s":"09-10","v":0.13,"o":0.29},{"s":"09-10","v":0.14,"o":-0.03},{"s":"09-10","v":0.15,"o":-0.27},{"s":"09-10","v":0.16,"o":0.16},{"s":"09-10","v":0.17,"o":-0.13},{"s":"09-10","v":0.18,"o":0.24},{"s":"09-10","v":0.19,"o":-0.2},{"s":"09-10","v":0.2,"o":0.09},{"s":"09-10","v":0.21,"o":-0.16},
      {"s":"09-10","v":0.22,"o":0.14},{"s":"09-10","v":0.23,"o":-0.12},{"s":"09-10","v":0.245,"o":0.07},{"s":"09-10","v":0.26,"o":-0.09},{"s":"09-10","v":0.275,"o":0.06},{"s":"09-10","v":0.29,"o":-0.04},{"s":"09-10","v":0.31,"o":0.05},{"s":"09-10","v":0.33,"o":-0.02},{"s":"09-10","v":0.35,"o":0.01},{"s":"09-10","v":0.375,"o":-0.01},
      {"s":"09-10","v":-0.04,"o":-0.2},{"s":"09-10","v":-0.01,"o":0.14},{"s":"09-10","v":0.02,"o":-0.05},{"s":"09-10","v":0.045,"o":0.26},{"s":"09-10","v":0.065,"o":-0.17},{"s":"09-10","v":0.085,"o":0.07},{"s":"09-10","v":0.095,"o":-0.29},{"s":"09-10","v":0.105,"o":0.19},{"s":"09-10","v":0.115,"o":-0.12},{"s":"09-10","v":0.125,"o":0.31},
      {"s":"09-10","v":0.135,"o":-0.23},{"s":"09-10","v":0.145,"o":0.09},{"s":"09-10","v":0.155,"o":-0.31},{"s":"09-10","v":0.165,"o":0.22},{"s":"09-10","v":0.175,"o":0.0},{"s":"09-10","v":0.185,"o":-0.18},{"s":"09-10","v":0.2,"o":0.28},{"s":"09-10","v":0.215,"o":-0.1},{"s":"09-10","v":0.235,"o":0.16},{"s":"09-10","v":0.26,"o":-0.26},

      {"s":"10-11","v":-0.205,"o":0.01},{"s":"10-11","v":-0.17,"o":-0.04},{"s":"10-11","v":-0.14,"o":0.06},{"s":"10-11","v":-0.12,"o":-0.08},{"s":"10-11","v":-0.1,"o":0.11},{"s":"10-11","v":-0.08,"o":-0.13},{"s":"10-11","v":-0.06,"o":0.16},{"s":"10-11","v":-0.045,"o":-0.19},{"s":"10-11","v":-0.03,"o":0.22},{"s":"10-11","v":-0.015,"o":-0.25},
      {"s":"10-11","v":0.0,"o":0.28},{"s":"10-11","v":0.015,"o":-0.3},{"s":"10-11","v":0.03,"o":0.24},{"s":"10-11","v":0.045,"o":-0.1},{"s":"10-11","v":0.06,"o":0.03},{"s":"10-11","v":0.075,"o":0.3},{"s":"10-11","v":0.09,"o":-0.27},{"s":"10-11","v":0.1,"o":0.14},{"s":"10-11","v":0.11,"o":-0.02},{"s":"10-11","v":0.12,"o":0.26},
      {"s":"10-11","v":0.13,"o":-0.21},{"s":"10-11","v":0.14,"o":0.09},{"s":"10-11","v":0.15,"o":-0.29},{"s":"10-11","v":0.16,"o":0.19},{"s":"10-11","v":0.17,"o":-0.15},{"s":"10-11","v":0.18,"o":0.27},{"s":"10-11","v":0.19,"o":-0.24},{"s":"10-11","v":0.2,"o":0.07},{"s":"10-11","v":0.21,"o":-0.11},{"s":"10-11","v":0.22,"o":0.21},
      {"s":"10-11","v":0.235,"o":-0.17},{"s":"10-11","v":0.25,"o":0.13},{"s":"10-11","v":0.265,"o":-0.09},{"s":"10-11","v":0.28,"o":0.1},{"s":"10-11","v":0.29,"o":-0.07},{"s":"10-11","v":0.31,"o":0.05},{"s":"10-11","v":0.34,"o":-0.03},{"s":"10-11","v":0.37,"o":0.04},{"s":"10-11","v":0.39,"o":-0.02},{"s":"10-11","v":0.42,"o":0.0},
      {"s":"10-11","v":-0.05,"o":0.2},{"s":"10-11","v":-0.02,"o":-0.14},{"s":"10-11","v":0.01,"o":0.05},{"s":"10-11","v":0.04,"o":-0.26},{"s":"10-11","v":0.065,"o":0.17},{"s":"10-11","v":0.085,"o":-0.07},{"s":"10-11","v":0.105,"o":0.29},{"s":"10-11","v":0.115,"o":-0.19},{"s":"10-11","v":0.125,"o":0.12},{"s":"10-11","v":0.135,"o":-0.31},
      {"s":"10-11","v":0.145,"o":0.23},{"s":"10-11","v":0.155,"o":-0.09},{"s":"10-11","v":0.165,"o":0.31},{"s":"10-11","v":0.175,"o":-0.22},{"s":"10-11","v":0.185,"o":0.0},{"s":"10-11","v":0.2,"o":0.18},{"s":"10-11","v":0.215,"o":-0.28},{"s":"10-11","v":0.23,"o":0.1},{"s":"10-11","v":0.25,"o":-0.16},{"s":"10-11","v":0.275,"o":0.26},

      {"s":"11-12","v":-0.2,"o":-0.02},{"s":"11-12","v":-0.17,"o":0.05},{"s":"11-12","v":-0.15,"o":-0.07},{"s":"11-12","v":-0.13,"o":0.1},{"s":"11-12","v":-0.11,"o":-0.12},{"s":"11-12","v":-0.09,"o":0.15},{"s":"11-12","v":-0.075,"o":-0.18},{"s":"11-12","v":-0.06,"o":0.21},{"s":"11-12","v":-0.045,"o":-0.24},{"s":"11-12","v":-0.03,"o":0.27},
      {"s":"11-12","v":-0.015,"o":-0.29},{"s":"11-12","v":0.0,"o":0.02},{"s":"11-12","v":0.015,"o":0.31},{"s":"11-12","v":0.03,"o":-0.2},{"s":"11-12","v":0.04,"o":0.12},{"s":"11-12","v":0.05,"o":-0.05},{"s":"11-12","v":0.06,"o":0.25},{"s":"11-12","v":0.07,"o":-0.31},{"s":"11-12","v":0.08,"o":0.08},{"s":"11-12","v":0.09,"o":-0.14},
      {"s":"11-12","v":0.1,"o":0.29},{"s":"11-12","v":0.11,"o":-0.26},{"s":"11-12","v":0.12,"o":0.17},{"s":"11-12","v":0.13,"o":-0.01},{"s":"11-12","v":0.14,"o":0.22},{"s":"11-12","v":0.15,"o":-0.19},{"s":"11-12","v":0.16,"o":0.06},{"s":"11-12","v":0.17,"o":-0.23},{"s":"11-12","v":0.18,"o":0.15},{"s":"11-12","v":0.19,"o":-0.1},
      {"s":"11-12","v":0.2,"o":0.18},{"s":"11-12","v":0.21,"o":-0.14},{"s":"11-12","v":0.22,"o":0.11},{"s":"11-12","v":0.235,"o":-0.06},{"s":"11-12","v":0.25,"o":0.08},{"s":"11-12","v":0.265,"o":-0.05},{"s":"11-12","v":0.28,"o":0.03},{"s":"11-12","v":0.3,"o":-0.04},{"s":"11-12","v":0.32,"o":0.02},{"s":"11-12","v":0.345,"o":0.01},
      {"s":"11-12","v":-0.12,"o":-0.2},{"s":"11-12","v":-0.08,"o":0.14},{"s":"11-12","v":-0.05,"o":-0.05},{"s":"11-12","v":-0.02,"o":0.26},{"s":"11-12","v":0.005,"o":-0.17},{"s":"11-12","v":0.025,"o":0.07},{"s":"11-12","v":0.045,"o":-0.29},{"s":"11-12","v":0.065,"o":0.19},{"s":"11-12","v":0.085,"o":-0.12},{"s":"11-12","v":0.105,"o":0.31},
      {"s":"11-12","v":0.115,"o":-0.23},{"s":"11-12","v":0.125,"o":0.09},{"s":"11-12","v":0.135,"o":-0.31},{"s":"11-12","v":0.145,"o":0.22},{"s":"11-12","v":0.155,"o":0.0},{"s":"11-12","v":0.175,"o":-0.18},{"s":"11-12","v":0.195,"o":0.28},{"s":"11-12","v":0.215,"o":-0.1},{"s":"11-12","v":0.23,"o":0.16},{"s":"11-12","v":0.25,"o":-0.26},

      {"s":"12-13","v":-0.175,"o":0.03},{"s":"12-13","v":-0.15,"o":-0.05},{"s":"12-13","v":-0.12,"o":0.08},{"s":"12-13","v":-0.1,"o":-0.1},{"s":"12-13","v":-0.085,"o":0.13},{"s":"12-13","v":-0.07,"o":-0.16},{"s":"12-13","v":-0.055,"o":0.2},{"s":"12-13","v":-0.04,"o":-0.22},{"s":"12-13","v":-0.025,"o":0.25},{"s":"12-13","v":-0.01,"o":-0.28},
      {"s":"12-13","v":0.005,"o":0.3},{"s":"12-13","v":0.02,"o":-0.12},{"s":"12-13","v":0.035,"o":0.18},{"s":"12-13","v":0.05,"o":-0.3},{"s":"12-13","v":0.06,"o":0.06},{"s":"12-13","v":0.07,"o":0.27},{"s":"12-13","v":0.08,"o":-0.08},{"s":"12-13","v":0.09,"o":-0.25},{"s":"12-13","v":0.1,"o":0.22},{"s":"12-13","v":0.11,"o":0.11},
      {"s":"12-13","v":0.12,"o":-0.18},{"s":"12-13","v":0.13,"o":0.29},{"s":"12-13","v":0.14,"o":-0.03},{"s":"12-13","v":0.15,"o":-0.27},{"s":"12-13","v":0.16,"o":0.16},{"s":"12-13","v":0.17,"o":-0.13},{"s":"12-13","v":0.18,"o":0.24},{"s":"12-13","v":0.19,"o":-0.2},{"s":"12-13","v":0.2,"o":0.09},{"s":"12-13","v":0.21,"o":-0.16},
      {"s":"12-13","v":0.22,"o":0.14},{"s":"12-13","v":0.235,"o":-0.12},{"s":"12-13","v":0.25,"o":0.07},{"s":"12-13","v":0.265,"o":-0.09},{"s":"12-13","v":0.28,"o":0.06},{"s":"12-13","v":0.3,"o":-0.04},{"s":"12-13","v":0.33,"o":0.05},{"s":"12-13","v":0.36,"o":-0.02},{"s":"12-13","v":0.4,"o":0.01},{"s":"12-13","v":0.43,"o":-0.01},
      {"s":"12-13","v":-0.09,"o":0.2},{"s":"12-13","v":-0.05,"o":-0.14},{"s":"12-13","v":-0.02,"o":0.05},{"s":"12-13","v":0.01,"o":-0.26},{"s":"12-13","v":0.03,"o":0.17},{"s":"12-13","v":0.055,"o":-0.07},{"s":"12-13","v":0.075,"o":0.29},{"s":"12-13","v":0.095,"o":-0.19},{"s":"12-13","v":0.105,"o":0.12},{"s":"12-13","v":0.115,"o":-0.31},
      {"s":"12-13","v":0.125,"o":0.23},{"s":"12-13","v":0.135,"o":-0.09},{"s":"12-13","v":0.145,"o":0.31},{"s":"12-13","v":0.155,"o":-0.22},{"s":"12-13","v":0.165,"o":0.0},{"s":"12-13","v":0.175,"o":0.18},{"s":"12-13","v":0.19,"o":-0.28},{"s":"12-13","v":0.21,"o":0.1},{"s":"12-13","v":0.23,"o":-0.16},{"s":"12-13","v":0.26,"o":0.26},

      {"s":"13-14","v":-0.195,"o":0.01},{"s":"13-14","v":-0.17,"o":-0.04},{"s":"13-14","v":-0.14,"o":0.06},{"s":"13-14","v":-0.12,"o":-0.08},{"s":"13-14","v":-0.1,"o":0.11},{"s":"13-14","v":-0.08,"o":-0.13},{"s":"13-14","v":-0.06,"o":0.16},{"s":"13-14","v":-0.045,"o":-0.19},{"s":"13-14","v":-0.03,"o":0.22},{"s":"13-14","v":-0.015,"o":-0.25},
      {"s":"13-14","v":0.0,"o":0.28},{"s":"13-14","v":0.015,"o":-0.3},{"s":"13-14","v":0.03,"o":0.24},{"s":"13-14","v":0.045,"o":-0.1},{"s":"13-14","v":0.06,"o":0.03},{"s":"13-14","v":0.07,"o":0.3},{"s":"13-14","v":0.08,"o":-0.27},{"s":"13-14","v":0.09,"o":0.14},{"s":"13-14","v":0.1,"o":-0.02},{"s":"13-14","v":0.11,"o":0.26},
      {"s":"13-14","v":0.12,"o":-0.21},{"s":"13-14","v":0.13,"o":0.09},{"s":"13-14","v":0.14,"o":-0.29},{"s":"13-14","v":0.15,"o":0.19},{"s":"13-14","v":0.16,"o":-0.15},{"s":"13-14","v":0.17,"o":0.27},{"s":"13-14","v":0.18,"o":-0.24},{"s":"13-14","v":0.19,"o":0.07},{"s":"13-14","v":0.2,"o":-0.11},{"s":"13-14","v":0.21,"o":0.21},
      {"s":"13-14","v":0.22,"o":-0.17},{"s":"13-14","v":0.23,"o":0.13},{"s":"13-14","v":0.24,"o":-0.09},{"s":"13-14","v":0.25,"o":0.1},{"s":"13-14","v":0.265,"o":-0.07},{"s":"13-14","v":0.28,"o":0.05},{"s":"13-14","v":0.295,"o":-0.03},{"s":"13-14","v":0.31,"o":0.04},{"s":"13-14","v":0.335,"o":-0.02},{"s":"13-14","v":0.36,"o":0.0},
      {"s":"13-14","v":-0.09,"o":-0.2},{"s":"13-14","v":-0.05,"o":0.14},{"s":"13-14","v":-0.02,"o":-0.05},{"s":"13-14","v":0.01,"o":0.26},{"s":"13-14","v":0.035,"o":-0.17},{"s":"13-14","v":0.055,"o":0.07},{"s":"13-14","v":0.075,"o":-0.29},{"s":"13-14","v":0.095,"o":0.19},{"s":"13-14","v":0.105,"o":-0.12},{"s":"13-14","v":0.115,"o":0.31},
      {"s":"13-14","v":0.125,"o":-0.23},{"s":"13-14","v":0.135,"o":0.09},{"s":"13-14","v":0.145,"o":-0.31},{"s":"13-14","v":0.155,"o":0.22},{"s":"13-14","v":0.165,"o":0.0},{"s":"13-14","v":0.185,"o":-0.18},{"s":"13-14","v":0.205,"o":0.28},{"s":"13-14","v":0.225,"o":-0.1},{"s":"13-14","v":0.245,"o":0.16},{"s":"13-14","v":0.27,"o":-0.26},

      {"s":"14-15","v":-0.19,"o":-0.02},{"s":"14-15","v":-0.16,"o":0.05},{"s":"14-15","v":-0.14,"o":-0.07},{"s":"14-15","v":-0.12,"o":0.1},{"s":"14-15","v":-0.1,"o":-0.12},{"s":"14-15","v":-0.085,"o":0.15},{"s":"14-15","v":-0.07,"o":-0.18},{"s":"14-15","v":-0.055,"o":0.21},{"s":"14-15","v":-0.04,"o":-0.24},{"s":"14-15","v":-0.025,"o":0.27},
      {"s":"14-15","v":-0.01,"o":-0.29},{"s":"14-15","v":0.005,"o":0.02},{"s":"14-15","v":0.02,"o":0.31},{"s":"14-15","v":0.035,"o":-0.2},{"s":"14-15","v":0.05,"o":0.12},{"s":"14-15","v":0.065,"o":-0.05},{"s":"14-15","v":0.08,"o":0.25},{"s":"14-15","v":0.09,"o":-0.31},{"s":"14-15","v":0.1,"o":0.08},{"s":"14-15","v":0.11,"o":-0.14},
      {"s":"14-15","v":0.12,"o":0.29},{"s":"14-15","v":0.13,"o":-0.26},{"s":"14-15","v":0.14,"o":0.17},{"s":"14-15","v":0.15,"o":-0.01},{"s":"14-15","v":0.16,"o":0.22},{"s":"14-15","v":0.17,"o":-0.19},{"s":"14-15","v":0.18,"o":0.06},{"s":"14-15","v":0.19,"o":-0.23},{"s":"14-15","v":0.2,"o":0.15},{"s":"14-15","v":0.21,"o":-0.1},
      {"s":"14-15","v":0.22,"o":0.18},{"s":"14-15","v":0.235,"o":-0.14},{"s":"14-15","v":0.25,"o":0.11},{"s":"14-15","v":0.265,"o":-0.06},{"s":"14-15","v":0.28,"o":0.08},{"s":"14-15","v":0.3,"o":-0.05},{"s":"14-15","v":0.32,"o":0.03},{"s":"14-15","v":0.35,"o":-0.04},{"s":"14-15","v":0.425,"o":0.02},{"s":"14-15","v":0.535,"o":0.01},
      {"s":"14-15","v":-0.09,"o":0.2},{"s":"14-15","v":-0.05,"o":-0.14},{"s":"14-15","v":-0.015,"o":0.05},{"s":"14-15","v":0.015,"o":-0.26},{"s":"14-15","v":0.04,"o":0.17},{"s":"14-15","v":0.06,"o":-0.07},{"s":"14-15","v":0.08,"o":0.29},{"s":"14-15","v":0.095,"o":-0.19},{"s":"14-15","v":0.105,"o":0.12},{"s":"14-15","v":0.115,"o":-0.31},
      {"s":"14-15","v":0.125,"o":0.23},{"s":"14-15","v":0.135,"o":-0.09},{"s":"14-15","v":0.145,"o":0.31},{"s":"14-15","v":0.155,"o":-0.22},{"s":"14-15","v":0.165,"o":0.0},{"s":"14-15","v":0.185,"o":0.18},{"s":"14-15","v":0.205,"o":-0.28},{"s":"14-15","v":0.225,"o":0.1},{"s":"14-15","v":0.245,"o":-0.16},{"s":"14-15","v":0.27,"o":0.26},

      {"s":"15-16","v":-0.2,"o":0.03},{"s":"15-16","v":-0.175,"o":-0.05},{"s":"15-16","v":-0.15,"o":0.08},{"s":"15-16","v":-0.13,"o":-0.1},{"s":"15-16","v":-0.11,"o":0.13},{"s":"15-16","v":-0.095,"o":-0.16},{"s":"15-16","v":-0.08,"o":0.2},{"s":"15-16","v":-0.065,"o":-0.22},{"s":"15-16","v":-0.05,"o":0.25},{"s":"15-16","v":-0.035,"o":-0.28},
      {"s":"15-16","v":-0.02,"o":0.3},{"s":"15-16","v":-0.005,"o":-0.12},{"s":"15-16","v":0.01,"o":0.18},{"s":"15-16","v":0.025,"o":-0.3},{"s":"15-16","v":0.04,"o":0.06},{"s":"15-16","v":0.055,"o":0.27},{"s":"15-16","v":0.07,"o":-0.08},{"s":"15-16","v":0.085,"o":-0.25},{"s":"15-16","v":0.1,"o":0.22},{"s":"15-16","v":0.11,"o":0.11},
      {"s":"15-16","v":0.12,"o":-0.18},{"s":"15-16","v":0.13,"o":0.29},{"s":"15-16","v":0.14,"o":-0.03},{"s":"15-16","v":0.15,"o":-0.27},{"s":"15-16","v":0.16,"o":0.16},{"s":"15-16","v":0.17,"o":-0.13},{"s":"15-16","v":0.18,"o":0.24},{"s":"15-16","v":0.19,"o":-0.2},{"s":"15-16","v":0.2,"o":0.09},{"s":"15-16","v":0.21,"o":-0.16},
      {"s":"15-16","v":0.22,"o":0.14},{"s":"15-16","v":0.235,"o":-0.12},{"s":"15-16","v":0.25,"o":0.07},{"s":"15-16","v":0.265,"o":-0.09},{"s":"15-16","v":0.28,"o":0.06},{"s":"15-16","v":0.295,"o":-0.04},{"s":"15-16","v":0.31,"o":0.05},{"s":"15-16","v":0.33,"o":-0.02},{"s":"15-16","v":0.35,"o":0.01},{"s":"15-16","v":0.37,"o":-0.01},
      {"s":"15-16","v":-0.12,"o":-0.2},{"s":"15-16","v":-0.08,"o":0.14},{"s":"15-16","v":-0.04,"o":-0.05},{"s":"15-16","v":-0.01,"o":0.26},{"s":"15-16","v":0.015,"o":-0.17},{"s":"15-16","v":0.035,"o":0.07},{"s":"15-16","v":0.06,"o":-0.29},{"s":"15-16","v":0.08,"o":0.19},{"s":"15-16","v":0.095,"o":-0.12},{"s":"15-16","v":0.105,"o":0.31},
      {"s":"15-16","v":0.115,"o":-0.23},{"s":"15-16","v":0.125,"o":0.09},{"s":"15-16","v":0.135,"o":-0.31},{"s":"15-16","v":0.145,"o":0.22},{"s":"15-16","v":0.16,"o":0.0},{"s":"15-16","v":0.18,"o":-0.18},{"s":"15-16","v":0.2,"o":0.28},{"s":"15-16","v":0.22,"o":-0.1},{"s":"15-16","v":0.245,"o":0.16},{"s":"15-16","v":0.27,"o":-0.26},

      {"s":"16-17","v":-0.2,"o":0.01},{"s":"16-17","v":-0.17,"o":-0.04},{"s":"16-17","v":-0.14,"o":0.06},{"s":"16-17","v":-0.115,"o":-0.08},{"s":"16-17","v":-0.095,"o":0.11},{"s":"16-17","v":-0.075,"o":-0.13},{"s":"16-17","v":-0.06,"o":0.16},{"s":"16-17","v":-0.045,"o":-0.19},{"s":"16-17","v":-0.03,"o":0.22},{"s":"16-17","v":-0.015,"o":-0.25},
      {"s":"16-17","v":0.0,"o":0.28},{"s":"16-17","v":0.015,"o":-0.3},{"s":"16-17","v":0.03,"o":0.24},{"s":"16-17","v":0.045,"o":-0.1},{"s":"16-17","v":0.06,"o":0.03},{"s":"16-17","v":0.075,"o":0.3},{"s":"16-17","v":0.09,"o":-0.27},{"s":"16-17","v":0.1,"o":0.14},{"s":"16-17","v":0.11,"o":-0.02},{"s":"16-17","v":0.12,"o":0.26},
      {"s":"16-17","v":0.13,"o":-0.21},{"s":"16-17","v":0.14,"o":0.09},{"s":"16-17","v":0.15,"o":-0.29},{"s":"16-17","v":0.16,"o":0.19},{"s":"16-17","v":0.17,"o":-0.15},{"s":"16-17","v":0.18,"o":0.27},{"s":"16-17","v":0.19,"o":-0.24},{"s":"16-17","v":0.2,"o":0.07},{"s":"16-17","v":0.21,"o":-0.11},{"s":"16-17","v":0.22,"o":0.21},
      {"s":"16-17","v":0.235,"o":-0.17},{"s":"16-17","v":0.25,"o":0.13},{"s":"16-17","v":0.265,"o":-0.09},{"s":"16-17","v":0.28,"o":0.1},{"s":"16-17","v":0.295,"o":-0.07},{"s":"16-17","v":0.31,"o":0.05},{"s":"16-17","v":0.325,"o":-0.03},{"s":"16-17","v":0.34,"o":0.04},{"s":"16-17","v":0.42,"o":-0.02},{"s":"16-17","v":0.43,"o":0.0},
      {"s":"16-17","v":-0.09,"o":0.2},{"s":"16-17","v":-0.05,"o":-0.14},{"s":"16-17","v":-0.02,"o":0.05},{"s":"16-17","v":0.01,"o":-0.26},{"s":"16-17","v":0.035,"o":0.17},{"s":"16-17","v":0.055,"o":-0.07},{"s":"16-17","v":0.08,"o":0.29},{"s":"16-17","v":0.095,"o":-0.19},{"s":"16-17","v":0.105,"o":0.12},{"s":"16-17","v":0.115,"o":-0.31},
      {"s":"16-17","v":0.125,"o":0.23},{"s":"16-17","v":0.135,"o":-0.09},{"s":"16-17","v":0.145,"o":0.31},{"s":"16-17","v":0.155,"o":-0.22},{"s":"16-17","v":0.17,"o":0.0},{"s":"16-17","v":0.19,"o":0.18},{"s":"16-17","v":0.21,"o":-0.28},{"s":"16-17","v":0.23,"o":0.1},{"s":"16-17","v":0.26,"o":-0.16},{"s":"16-17","v":0.29,"o":0.26},

      {"s":"17-18","v":-0.2,"o":-0.02},{"s":"17-18","v":-0.17,"o":0.05},{"s":"17-18","v":-0.145,"o":-0.07},{"s":"17-18","v":-0.12,"o":0.1},{"s":"17-18","v":-0.1,"o":-0.12},{"s":"17-18","v":-0.08,"o":0.15},{"s":"17-18","v":-0.065,"o":-0.18},{"s":"17-18","v":-0.05,"o":0.21},{"s":"17-18","v":-0.035,"o":-0.24},{"s":"17-18","v":-0.02,"o":0.27},
      {"s":"17-18","v":-0.005,"o":-0.29},{"s":"17-18","v":0.01,"o":0.02},{"s":"17-18","v":0.025,"o":0.31},{"s":"17-18","v":0.04,"o":-0.2},{"s":"17-18","v":0.055,"o":0.12},{"s":"17-18","v":0.07,"o":-0.05},{"s":"17-18","v":0.085,"o":0.25},{"s":"17-18","v":0.1,"o":-0.31},{"s":"17-18","v":0.11,"o":0.08},{"s":"17-18","v":0.12,"o":-0.14},
      {"s":"17-18","v":0.13,"o":0.29},{"s":"17-18","v":0.14,"o":-0.26},{"s":"17-18","v":0.15,"o":0.17},{"s":"17-18","v":0.16,"o":-0.01},{"s":"17-18","v":0.17,"o":0.22},{"s":"17-18","v":0.18,"o":-0.19},{"s":"17-18","v":0.19,"o":0.06},{"s":"17-18","v":0.2,"o":-0.23},{"s":"17-18","v":0.21,"o":0.15},{"s":"17-18","v":0.22,"o":-0.1},
      {"s":"17-18","v":0.235,"o":0.18},{"s":"17-18","v":0.25,"o":-0.14},{"s":"17-18","v":0.265,"o":0.11},{"s":"17-18","v":0.28,"o":-0.06},{"s":"17-18","v":0.295,"o":0.08},{"s":"17-18","v":0.31,"o":-0.05},{"s":"17-18","v":0.325,"o":0.03},{"s":"17-18","v":0.34,"o":-0.04},{"s":"17-18","v":0.36,"o":0.02},{"s":"17-18","v":0.4,"o":0.01},
      {"s":"17-18","v":-0.09,"o":-0.2},{"s":"17-18","v":-0.05,"o":0.14},{"s":"17-18","v":-0.02,"o":-0.05},{"s":"17-18","v":0.01,"o":0.26},{"s":"17-18","v":0.03,"o":-0.17},{"s":"17-18","v":0.05,"o":0.07},{"s":"17-18","v":0.07,"o":-0.29},{"s":"17-18","v":0.09,"o":0.19},{"s":"17-18","v":0.105,"o":-0.12},{"s":"17-18","v":0.115,"o":0.31},
      {"s":"17-18","v":0.125,"o":-0.23},{"s":"17-18","v":0.135,"o":0.09},{"s":"17-18","v":0.145,"o":-0.31},{"s":"17-18","v":0.155,"o":0.22},{"s":"17-18","v":0.17,"o":0.0},{"s":"17-18","v":0.19,"o":-0.18},{"s":"17-18","v":0.21,"o":0.28},{"s":"17-18","v":0.23,"o":-0.1},{"s":"17-18","v":0.26,"o":0.16},{"s":"17-18","v":0.29,"o":-0.26},

      {"s":"18-19","v":-0.2,"o":0.03},{"s":"18-19","v":-0.175,"o":-0.05},{"s":"18-19","v":-0.15,"o":0.08},{"s":"18-19","v":-0.125,"o":-0.1},{"s":"18-19","v":-0.105,"o":0.13},{"s":"18-19","v":-0.085,"o":-0.16},{"s":"18-19","v":-0.07,"o":0.2},{"s":"18-19","v":-0.055,"o":-0.22},{"s":"18-19","v":-0.04,"o":0.25},{"s":"18-19","v":-0.025,"o":-0.28},
      {"s":"18-19","v":-0.01,"o":0.3},{"s":"18-19","v":0.005,"o":-0.12},{"s":"18-19","v":0.02,"o":0.18},{"s":"18-19","v":0.035,"o":-0.3},{"s":"18-19","v":0.05,"o":0.06},{"s":"18-19","v":0.065,"o":0.27},{"s":"18-19","v":0.08,"o":-0.08},{"s":"18-19","v":0.09,"o":-0.25},{"s":"18-19","v":0.1,"o":0.22},{"s":"18-19","v":0.11,"o":0.11},
      {"s":"18-19","v":0.12,"o":-0.18},{"s":"18-19","v":0.13,"o":0.29},{"s":"18-19","v":0.14,"o":-0.03},{"s":"18-19","v":0.15,"o":-0.27},{"s":"18-19","v":0.16,"o":0.16},{"s":"18-19","v":0.17,"o":-0.13},{"s":"18-19","v":0.18,"o":0.24},{"s":"18-19","v":0.19,"o":-0.2},{"s":"18-19","v":0.2,"o":0.09},{"s":"18-19","v":0.21,"o":-0.16},
      {"s":"18-19","v":0.22,"o":0.14},{"s":"18-19","v":0.235,"o":-0.12},{"s":"18-19","v":0.25,"o":0.07},{"s":"18-19","v":0.265,"o":-0.09},{"s":"18-19","v":0.28,"o":0.06},{"s":"18-19","v":0.3,"o":-0.04},{"s":"18-19","v":0.32,"o":0.05},{"s":"18-19","v":0.35,"o":-0.02},{"s":"18-19","v":0.37,"o":0.01},{"s":"18-19","v":0.39,"o":-0.01},
      {"s":"18-19","v":-0.09,"o":0.2},{"s":"18-19","v":-0.05,"o":-0.14},{"s":"18-19","v":-0.02,"o":0.05},{"s":"18-19","v":0.01,"o":-0.26},{"s":"18-19","v":0.03,"o":0.17},{"s":"18-19","v":0.05,"o":-0.07},{"s":"18-19","v":0.07,"o":0.29},{"s":"18-19","v":0.085,"o":-0.19},{"s":"18-19","v":0.095,"o":0.12},{"s":"18-19","v":0.105,"o":-0.31},
      {"s":"18-19","v":0.115,"o":0.23},{"s":"18-19","v":0.125,"o":-0.09},{"s":"18-19","v":0.135,"o":0.31},{"s":"18-19","v":0.145,"o":-0.22},{"s":"18-19","v":0.16,"o":0.0},{"s":"18-19","v":0.18,"o":0.18},{"s":"18-19","v":0.2,"o":-0.28},{"s":"18-19","v":0.22,"o":0.1},{"s":"18-19","v":0.245,"o":-0.16},{"s":"18-19","v":0.27,"o":0.26},

      {"s":"19-20","v":-0.2,"o":0.01},{"s":"19-20","v":-0.17,"o":-0.04},{"s":"19-20","v":-0.14,"o":0.06},{"s":"19-20","v":-0.115,"o":-0.08},{"s":"19-20","v":-0.095,"o":0.11},{"s":"19-20","v":-0.075,"o":-0.13},{"s":"19-20","v":-0.055,"o":0.16},{"s":"19-20","v":-0.04,"o":-0.19},{"s":"19-20","v":-0.025,"o":0.22},{"s":"19-20","v":-0.01,"o":-0.25},
      {"s":"19-20","v":0.005,"o":0.28},{"s":"19-20","v":0.02,"o":-0.3},{"s":"19-20","v":0.035,"o":0.24},{"s":"19-20","v":0.05,"o":-0.1},{"s":"19-20","v":0.065,"o":0.03},{"s":"19-20","v":0.08,"o":0.3},{"s":"19-20","v":0.09,"o":-0.27},{"s":"19-20","v":0.1,"o":0.14},{"s":"19-20","v":0.11,"o":-0.02},{"s":"19-20","v":0.12,"o":0.26},
      {"s":"19-20","v":0.13,"o":-0.21},{"s":"19-20","v":0.14,"o":0.09},{"s":"19-20","v":0.15,"o":-0.29},{"s":"19-20","v":0.16,"o":0.19},{"s":"19-20","v":0.17,"o":-0.15},{"s":"19-20","v":0.18,"o":0.27},{"s":"19-20","v":0.19,"o":-0.24},{"s":"19-20","v":0.2,"o":0.07},{"s":"19-20","v":0.21,"o":-0.11},{"s":"19-20","v":0.22,"o":0.21},
      {"s":"19-20","v":0.23,"o":-0.17},{"s":"19-20","v":0.24,"o":0.13},{"s":"19-20","v":0.25,"o":-0.09},{"s":"19-20","v":0.265,"o":0.1},{"s":"19-20","v":0.28,"o":-0.07},{"s":"19-20","v":0.295,"o":0.05},{"s":"19-20","v":0.31,"o":-0.03},{"s":"19-20","v":0.33,"o":0.04},{"s":"19-20","v":0.35,"o":-0.02},{"s":"19-20","v":0.385,"o":0.0},
      {"s":"19-20","v":-0.08,"o":-0.2},{"s":"19-20","v":-0.04,"o":0.14},{"s":"19-20","v":-0.01,"o":-0.05},{"s":"19-20","v":0.015,"o":0.26},{"s":"19-20","v":0.04,"o":-0.17},{"s":"19-20","v":0.06,"o":0.07},{"s":"19-20","v":0.075,"o":-0.29},{"s":"19-20","v":0.085,"o":0.19},{"s":"19-20","v":0.095,"o":-0.12},{"s":"19-20","v":0.105,"o":0.31},
      {"s":"19-20","v":0.115,"o":-0.23},{"s":"19-20","v":0.125,"o":0.09},{"s":"19-20","v":0.135,"o":-0.31},{"s":"19-20","v":0.145,"o":0.22},{"s":"19-20","v":0.16,"o":0.0},{"s":"19-20","v":0.18,"o":-0.18},{"s":"19-20","v":0.2,"o":0.28},{"s":"19-20","v":0.22,"o":-0.1},{"s":"19-20","v":0.25,"o":0.16},{"s":"19-20","v":0.28,"o":-0.26},

      {"s":"20-21","v":-0.2,"o":-0.02},{"s":"20-21","v":-0.17,"o":0.05},{"s":"20-21","v":-0.14,"o":-0.07},{"s":"20-21","v":-0.115,"o":0.1},{"s":"20-21","v":-0.09,"o":-0.12},{"s":"20-21","v":-0.07,"o":0.15},{"s":"20-21","v":-0.05,"o":-0.18},{"s":"20-21","v":-0.035,"o":0.21},{"s":"20-21","v":-0.02,"o":-0.24},{"s":"20-21","v":-0.005,"o":0.27},
      {"s":"20-21","v":0.01,"o":-0.29},{"s":"20-21","v":0.02,"o":0.02},{"s":"20-21","v":0.03,"o":0.31},{"s":"20-21","v":0.04,"o":-0.2},{"s":"20-21","v":0.05,"o":0.12},{"s":"20-21","v":0.06,"o":-0.05},{"s":"20-21","v":0.07,"o":0.25},{"s":"20-21","v":0.08,"o":-0.31},{"s":"20-21","v":0.09,"o":0.08},{"s":"20-21","v":0.1,"o":-0.14},
      {"s":"20-21","v":0.11,"o":0.29},{"s":"20-21","v":0.12,"o":-0.26},{"s":"20-21","v":0.13,"o":0.17},{"s":"20-21","v":0.14,"o":-0.01},{"s":"20-21","v":0.15,"o":0.22},{"s":"20-21","v":0.16,"o":-0.19},{"s":"20-21","v":0.17,"o":0.06},{"s":"20-21","v":0.18,"o":-0.23},{"s":"20-21","v":0.19,"o":0.15},{"s":"20-21","v":0.2,"o":-0.1},
      {"s":"20-21","v":0.21,"o":0.18},{"s":"20-21","v":0.22,"o":-0.14},{"s":"20-21","v":0.235,"o":0.11},{"s":"20-21","v":0.25,"o":-0.06},{"s":"20-21","v":0.265,"o":0.08},{"s":"20-21","v":0.28,"o":-0.05},{"s":"20-21","v":0.3,"o":0.03},{"s":"20-21","v":0.34,"o":-0.04},{"s":"20-21","v":0.4,"o":0.02},{"s":"20-21","v":0.44,"o":0.01},
      {"s":"20-21","v":-0.08,"o":0.2},{"s":"20-21","v":-0.04,"o":-0.14},{"s":"20-21","v":-0.01,"o":0.05},{"s":"20-21","v":0.015,"o":-0.26},{"s":"20-21","v":0.025,"o":0.17},{"s":"20-21","v":0.035,"o":-0.07},{"s":"20-21","v":0.045,"o":0.29},{"s":"20-21","v":0.055,"o":-0.19},{"s":"20-21","v":0.065,"o":0.12},{"s":"20-21","v":0.075,"o":-0.31},
      {"s":"20-21","v":0.085,"o":0.23},{"s":"20-21","v":0.095,"o":-0.09},{"s":"20-21","v":0.105,"o":0.31},{"s":"20-21","v":0.125,"o":-0.22},{"s":"20-21","v":0.145,"o":0.0},{"s":"20-21","v":0.165,"o":0.18},{"s":"20-21","v":0.185,"o":-0.28},{"s":"20-21","v":0.205,"o":0.1},{"s":"20-21","v":0.23,"o":-0.16},{"s":"20-21","v":0.26,"o":0.26},

      {"s":"21-22","v":-0.2,"o":0.03},{"s":"21-22","v":-0.175,"o":-0.05},{"s":"21-22","v":-0.15,"o":0.08},{"s":"21-22","v":-0.13,"o":-0.1},{"s":"21-22","v":-0.11,"o":0.13},{"s":"21-22","v":-0.09,"o":-0.16},{"s":"21-22","v":-0.07,"o":0.2},{"s":"21-22","v":-0.05,"o":-0.22},{"s":"21-22","v":-0.035,"o":0.25},{"s":"21-22","v":-0.02,"o":-0.28},
      {"s":"21-22","v":-0.005,"o":0.3},{"s":"21-22","v":0.01,"o":-0.12},{"s":"21-22","v":0.025,"o":0.18},{"s":"21-22","v":0.04,"o":-0.3},{"s":"21-22","v":0.055,"o":0.06},{"s":"21-22","v":0.07,"o":0.27},{"s":"21-22","v":0.085,"o":-0.08},{"s":"21-22","v":0.1,"o":-0.25},{"s":"21-22","v":0.115,"o":0.22},{"s":"21-22","v":0.13,"o":0.11},
      {"s":"21-22","v":0.145,"o":-0.18},{"s":"21-22","v":0.16,"o":0.29},{"s":"21-22","v":0.17,"o":-0.03},{"s":"21-22","v":0.18,"o":-0.27},{"s":"21-22","v":0.19,"o":0.16},{"s":"21-22","v":0.2,"o":-0.13},{"s":"21-22","v":0.21,"o":0.24},{"s":"21-22","v":0.22,"o":-0.2},{"s":"21-22","v":0.23,"o":0.09},{"s":"21-22","v":0.24,"o":-0.16},
      {"s":"21-22","v":0.25,"o":0.14},{"s":"21-22","v":0.265,"o":-0.12},{"s":"21-22","v":0.28,"o":0.07},{"s":"21-22","v":0.295,"o":-0.09},{"s":"21-22","v":0.31,"o":0.06},{"s":"21-22","v":0.33,"o":-0.04},{"s":"21-22","v":0.35,"o":0.05},{"s":"21-22","v":0.38,"o":-0.02},{"s":"21-22","v":0.42,"o":0.01},{"s":"21-22","v":0.515,"o":-0.01},
      {"s":"21-22","v":-0.12,"o":-0.2},{"s":"21-22","v":-0.08,"o":0.14},{"s":"21-22","v":-0.04,"o":-0.05},{"s":"21-22","v":-0.01,"o":0.26},{"s":"21-22","v":0.02,"o":-0.17},{"s":"21-22","v":0.045,"o":0.07},{"s":"21-22","v":0.065,"o":-0.29},{"s":"21-22","v":0.09,"o":0.19},{"s":"21-22","v":0.105,"o":-0.12},{"s":"21-22","v":0.12,"o":0.31},
      {"s":"21-22","v":0.135,"o":-0.23},{"s":"21-22","v":0.15,"o":0.09},{"s":"21-22","v":0.165,"o":-0.31},{"s":"21-22","v":0.18,"o":0.22},{"s":"21-22","v":0.195,"o":0.0},{"s":"21-22","v":0.215,"o":-0.18},{"s":"21-22","v":0.235,"o":0.28},{"s":"21-22","v":0.26,"o":-0.1},{"s":"21-22","v":0.29,"o":0.16},{"s":"21-22","v":0.32,"o":-0.26}
    ]
  },
  "columns": 1,
  "align": "none",
  "spacing": 75,
  "resolve": {
    "scale": {"color": "independent", "strokeDash": "independent", "shape": "independent", "x": "independent", "y": "independent"},
    "legend": {"color": "independent", "strokeDash": "independent", "shape": "independent"}
  },
  "concat": [
    {
      "width": 1745,
      "height": 647,
      "layer": [
        {
          "data": {"values": [{"ref": 0}]},
          "mark": {"type": "rule", "color": "#a6a6a6", "strokeWidth": 2},
          "encoding": {
            "y": {"field": "ref", "type": "quantitative", "title": "SPAR",
                  "scale": {"domain": [-2.41, 7.62], "nice": false, "zero": false},
                  "axis": {"values": [0, 2.5, 5, 7.5], "format": ".1f"}}
          }
        },
        {
          "data": {"values": []},
          "mark": {"type": "point", "filled": true, "color": "#f2f2f2", "opacity": 1},
          "encoding": {
            "shape": {"field": "box", "type": "nominal", "scale": {"domain": ["1%"], "range": ["square"]},
                      "legend": {"title": null, "orient": "none", "legendX": 1766, "legendY": 479,
                                 "symbolSize": 2809, "symbolFillColor": "#f2f2f2", "symbolStrokeWidth": 0,
                                 "symbolOpacity": 1, "labelOpacity": 0}}
          }
        },
        {
          "data": {"values": [{"ref": 7.28, "lab": "1%"}]},
          "mark": {"type": "rule", "color": "#9a9a9a", "strokeWidth": 1.6},
          "encoding": {
            "y": {"field": "ref", "type": "quantitative", "title": "SPAR",
                  "scale": {"domain": [-2.41, 7.62], "nice": false, "zero": false}},
            "strokeDash": {"field": "lab", "type": "nominal", "scale": {"range": [[8, 6]]},
                  "legend": {"title": null, "orient": "none", "legendX": 1771, "legendY": 484,
                             "symbolType": "stroke", "symbolSize": 1849, "symbolStrokeColor": "#9a9a9a",
                             "symbolStrokeWidth": 2, "labelOffset": 20}}
          }
        },
        {
          "data": {"name": "spar"},
          "mark": {"type": "point", "filled": true, "fill": "white", "stroke": "#8c8c8c", "strokeWidth": 1, "size": 50, "opacity": 1, "clip": true},
          "encoding": {
            "x": {"field": "s", "type": "nominal", "title": null,
                  "scale": {"type": "band", "paddingInner": 0, "paddingOuter": 0.1}},
            "xOffset": {"field": "o", "type": "quantitative", "scale": {"domain": [-0.5, 0.5]}},
            "y": {"field": "v", "type": "quantitative", "title": "SPAR",
                  "scale": {"domain": [-2.41, 7.62], "nice": false, "zero": false}}
          }
        },
        {
          "data": {"name": "career"},
          "mark": {"type": "line", "color": "#666666", "strokeWidth": 4},
          "encoding": {
            "x": {"field": "season", "type": "nominal", "title": null},
            "y": {"field": "spar", "type": "quantitative", "title": "SPAR",
                  "scale": {"domain": [-2.41, 7.62], "nice": false, "zero": false}}
          }
        },
        {
          "data": {"name": "career"},
          "mark": {"type": "point", "filled": true, "size": 1000, "stroke": "black", "strokeWidth": 1.8, "opacity": 1},
          "encoding": {
            "x": {"field": "season", "type": "nominal", "title": null},
            "y": {"field": "spar", "type": "quantitative", "title": "SPAR",
                  "scale": {"domain": [-2.41, 7.62], "nice": false, "zero": false}},
            "color": {"field": "toi", "type": "quantitative",
                      "scale": {"domain": [0, 670, 1881], "range": ["#f4a582", "#ffffff", "#0571b0"], "interpolate": "lab"},
                      "legend": {"title": "All TOI", "orient": "none", "legendX": 1766, "legendY": 108,
                                 "direction": "vertical", "format": "d", "values": [250, 600, 950, 1300, 1650]}}
          }
        },
        {
          "data": {"name": "career"},
          "mark": {"type": "point", "shape": "M-1,-0.445L1,-0.445L1,0.445L-1,0.445Z", "size": 5184, "filled": true,
                   "fill": "white", "stroke": "black", "strokeWidth": 1.2, "opacity": 1, "yOffset": 81},
          "encoding": {
            "x": {"field": "season", "type": "nominal", "title": null},
            "y": {"field": "spar", "type": "quantitative", "title": "SPAR",
                  "scale": {"domain": [-2.41, 7.62], "nice": false, "zero": false}}
          }
        },
        {
          "data": {"name": "career"},
          "mark": {"type": "text", "font": "Open Sans", "fontSize": 28, "color": "black", "baseline": "middle", "yOffset": 82},
          "encoding": {
            "x": {"field": "season", "type": "nominal", "title": null},
            "y": {"field": "spar", "type": "quantitative", "title": "SPAR",
                  "scale": {"domain": [-2.41, 7.62], "nice": false, "zero": false}},
            "text": {"field": "team"}
          }
        }
      ]
    },
    {
      "width": 1742,
      "height": 648,
      "title": {"text": "Evolving-Hockey.com - 2022-02-01", "orient": "bottom", "anchor": "end", "frame": "group",
                "font": "Open Sans", "fontSize": 24, "fontWeight": "normal", "color": "black", "offset": -14},
      "layer": [
        {
          "data": {"values": [{"ref": 0}]},
          "mark": {"type": "rule", "color": "#a6a6a6", "strokeWidth": 2},
          "encoding": {
            "y": {"field": "ref", "type": "quantitative", "title": "SPAR/60",
                  "scale": {"domain": [-0.21, 0.574], "nice": false, "zero": false},
                  "axis": {"values": [-0.2, -0.1, 0, 0.1, 0.2, 0.3, 0.4, 0.5], "format": ".1f"}}
          }
        },
        {
          "data": {"values": []},
          "mark": {"type": "point", "filled": true, "color": "#f2f2f2", "opacity": 1},
          "encoding": {
            "shape": {"field": "box", "type": "nominal", "scale": {"domain": ["1%"], "range": ["square"]},
                      "legend": {"title": null, "orient": "none", "legendX": 1762, "legendY": 477,
                                 "symbolSize": 2809, "symbolFillColor": "#f2f2f2", "symbolStrokeWidth": 0,
                                 "symbolOpacity": 1, "labelOpacity": 0}}
          }
        },
        {
          "data": {"values": [{"ref": 0.354, "lab": "1%"}]},
          "mark": {"type": "rule", "color": "#9a9a9a", "strokeWidth": 1.6},
          "encoding": {
            "y": {"field": "ref", "type": "quantitative", "title": "SPAR/60",
                  "scale": {"domain": [-0.21, 0.574], "nice": false, "zero": false}},
            "strokeDash": {"field": "lab", "type": "nominal", "scale": {"range": [[8, 6]]},
                  "legend": {"title": null, "orient": "none", "legendX": 1767, "legendY": 482,
                             "symbolType": "stroke", "symbolSize": 1849, "symbolStrokeColor": "#9a9a9a",
                             "symbolStrokeWidth": 2, "labelOffset": 20}}
          }
        },
        {
          "data": {"name": "spar60"},
          "mark": {"type": "point", "filled": true, "fill": "white", "stroke": "#8c8c8c", "strokeWidth": 1, "size": 50, "opacity": 1, "clip": true},
          "encoding": {
            "x": {"field": "s", "type": "nominal", "title": "Season",
                  "scale": {"type": "band", "paddingInner": 0, "paddingOuter": 0.1}},
            "xOffset": {"field": "o", "type": "quantitative", "scale": {"domain": [-0.5, 0.5]}},
            "y": {"field": "v", "type": "quantitative", "title": "SPAR/60",
                  "scale": {"domain": [-0.21, 0.574], "nice": false, "zero": false}}
          }
        },
        {
          "data": {"name": "career"},
          "mark": {"type": "line", "color": "#666666", "strokeWidth": 4},
          "encoding": {
            "x": {"field": "season", "type": "nominal", "title": "Season"},
            "y": {"field": "spar60", "type": "quantitative", "title": "SPAR/60",
                  "scale": {"domain": [-0.21, 0.574], "nice": false, "zero": false}}
          }
        },
        {
          "data": {"name": "career"},
          "mark": {"type": "point", "filled": true, "size": 1000, "stroke": "black", "strokeWidth": 1.8, "opacity": 1},
          "encoding": {
            "x": {"field": "season", "type": "nominal", "title": "Season"},
            "y": {"field": "spar60", "type": "quantitative", "title": "SPAR/60",
                  "scale": {"domain": [-0.21, 0.574], "nice": false, "zero": false}},
            "color": {"field": "toigp", "type": "quantitative",
                      "scale": {"domain": [1.4, 13.5, 24.8], "range": ["#d95f0e", "#ffffff", "#2c7bb6"], "interpolate": "lab"},
                      "legend": {"title": "TOI/GP", "orient": "none", "legendX": 1762, "legendY": 108,
                                 "direction": "vertical", "format": "d", "values": [4, 8, 12, 16, 20, 24]}}
          }
        },
        {
          "data": {"name": "career"},
          "mark": {"type": "point", "shape": "M-1,-0.445L1,-0.445L1,0.445L-1,0.445Z", "size": 5184, "filled": true,
                   "fill": "white", "stroke": "black", "strokeWidth": 1.2, "opacity": 1, "yOffset": 55},
          "encoding": {
            "x": {"field": "season", "type": "nominal", "title": "Season"},
            "y": {"field": "spar60", "type": "quantitative", "title": "SPAR/60",
                  "scale": {"domain": [-0.21, 0.574], "nice": false, "zero": false}}
          }
        },
        {
          "data": {"name": "career"},
          "mark": {"type": "text", "font": "Open Sans", "fontSize": 28, "color": "black", "baseline": "middle", "yOffset": 56},
          "encoding": {
            "x": {"field": "season", "type": "nominal", "title": "Season"},
            "y": {"field": "spar60", "type": "quantitative", "title": "SPAR/60",
                  "scale": {"domain": [-0.21, 0.574], "nice": false, "zero": false}},
            "text": {"field": "team"}
          }
        }
      ]
    }
  ]
}
